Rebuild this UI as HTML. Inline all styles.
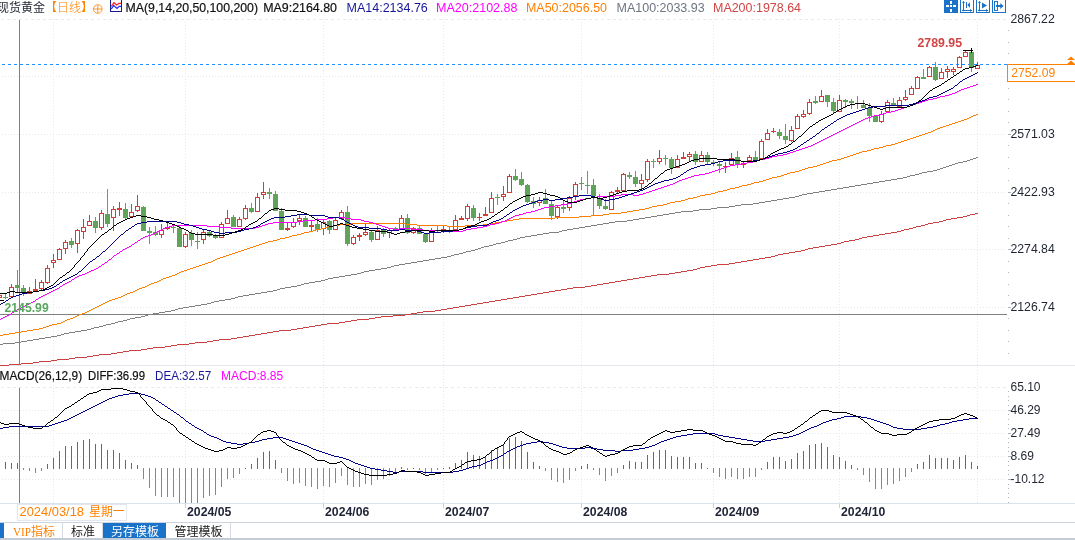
<!DOCTYPE html>
<html lang="zh-CN"><head><meta charset="utf-8"><title>现货黄金 日线</title>
<style>html,body{margin:0;padding:0;background:#fff;overflow:hidden}svg{display:block}text{white-space:pre}</style>
</head><body>
<svg width="1075" height="540" viewBox="0 0 1075 540" font-family='"Liberation Sans","Noto Sans CJK SC",sans-serif'>
<rect width="1075" height="540" fill="#fff"/>
<g stroke="#e5eaf0" stroke-width="1" stroke-dasharray="1 2" shape-rendering="crispEdges">
<line x1="1" x2="1007" y1="19.5" y2="19.5" stroke="#e3ecf3" stroke-dasharray="3 3"/>
<line x1="2" x2="1007" y1="76.5" y2="76.5"/>
<line x1="2" x2="1007" y1="134.5" y2="134.5"/>
<line x1="2" x2="1007" y1="192.5" y2="192.5"/>
<line x1="2" x2="1007" y1="249.5" y2="249.5"/>
<line x1="2" x2="1007" y1="307.5" y2="307.5"/>
<line x1="2" x2="1007" y1="410.5" y2="410.5"/>
<line x1="2" x2="1007" y1="433.5" y2="433.5"/>
<line x1="2" x2="1007" y1="456.5" y2="456.5"/>
<line x1="2" x2="1007" y1="479.5" y2="479.5"/>
<line x1="1" x2="1007" y1="387.5" y2="387.5" stroke="#e3ecf3" stroke-dasharray="3 3"/>
<line x1="53.5" x2="53.5" y1="19" y2="365"/>
<line x1="53.5" x2="53.5" y1="367" y2="503"/>
<line x1="185.5" x2="185.5" y1="19" y2="365"/>
<line x1="185.5" x2="185.5" y1="367" y2="503"/>
<line x1="323.5" x2="323.5" y1="19" y2="365"/>
<line x1="323.5" x2="323.5" y1="367" y2="503"/>
<line x1="443.5" x2="443.5" y1="19" y2="365"/>
<line x1="443.5" x2="443.5" y1="367" y2="503"/>
<line x1="581.5" x2="581.5" y1="19" y2="365"/>
<line x1="581.5" x2="581.5" y1="367" y2="503"/>
<line x1="713.5" x2="713.5" y1="19" y2="365"/>
<line x1="713.5" x2="713.5" y1="367" y2="503"/>
<line x1="839.5" x2="839.5" y1="19" y2="365"/>
<line x1="839.5" x2="839.5" y1="367" y2="503"/>
<line x1="977.5" x2="977.5" y1="19" y2="365"/>
<line x1="977.5" x2="977.5" y1="367" y2="503"/>
</g>
<rect x="0" y="365" width="1075" height="1" fill="#e3e8ef"/>
<g fill="#808080" shape-rendering="crispEdges">
<rect x="19" y="20" width="1" height="345"/>
<rect x="19" y="388" width="1" height="115"/>
<rect x="0" y="314" width="1007" height="1"/>
</g>
<line x1="2" x2="1007" y1="64.5" y2="64.5" stroke="#1e90ff" stroke-width="1" stroke-dasharray="3 3" shape-rendering="crispEdges"/>
<g shape-rendering="crispEdges">
<rect x="-2.5" y="295.5" width="4" height="2" fill="none" stroke="#cf3f36" stroke-width="1"/>
<rect x="5" y="294" width="1" height="3" fill="#5fa458"/>
<rect x="5" y="298" width="1" height="1" fill="#5fa458"/>
<rect x="3" y="297" width="5" height="1" fill="#5fa458"/>
<rect x="11" y="284" width="1" height="3" fill="#cf3f36"/>
<rect x="9.5" y="287.5" width="4" height="9" fill="none" stroke="#cf3f36" stroke-width="1"/>
<rect x="17" y="270" width="1" height="15" fill="#5fa458"/>
<rect x="17" y="288" width="1" height="5" fill="#5fa458"/>
<rect x="15" y="285" width="5" height="3" fill="#5fa458"/>
<rect x="23" y="285" width="1" height="3" fill="#5fa458"/>
<rect x="23" y="293" width="1" height="3" fill="#5fa458"/>
<rect x="21" y="288" width="5" height="5" fill="#5fa458"/>
<rect x="29" y="287" width="1" height="4" fill="#cf3f36"/>
<rect x="27.5" y="291.5" width="4" height="2" fill="none" stroke="#cf3f36" stroke-width="1"/>
<rect x="35" y="279" width="1" height="10" fill="#cf3f36"/>
<rect x="33" y="289" width="5" height="2" fill="#cf3f36"/>
<rect x="41" y="280" width="1" height="2" fill="#cf3f36"/>
<rect x="41" y="289" width="1" height="1" fill="#cf3f36"/>
<rect x="39.5" y="282.5" width="4" height="6" fill="none" stroke="#cf3f36" stroke-width="1"/>
<rect x="47" y="265" width="1" height="3" fill="#cf3f36"/>
<rect x="47" y="283" width="1" height="1" fill="#cf3f36"/>
<rect x="45.5" y="268.5" width="4" height="14" fill="none" stroke="#cf3f36" stroke-width="1"/>
<rect x="53" y="254" width="1" height="6" fill="#cf3f36"/>
<rect x="53" y="263" width="1" height="5" fill="#cf3f36"/>
<rect x="51.5" y="260.5" width="4" height="2" fill="none" stroke="#cf3f36" stroke-width="1"/>
<rect x="59" y="248" width="1" height="1" fill="#cf3f36"/>
<rect x="57.5" y="249.5" width="4" height="10" fill="none" stroke="#cf3f36" stroke-width="1"/>
<rect x="65" y="240" width="1" height="2" fill="#cf3f36"/>
<rect x="65" y="249" width="1" height="5" fill="#cf3f36"/>
<rect x="63.5" y="242.5" width="4" height="6" fill="none" stroke="#cf3f36" stroke-width="1"/>
<rect x="71" y="238" width="1" height="3" fill="#5fa458"/>
<rect x="71" y="245" width="1" height="3" fill="#5fa458"/>
<rect x="69" y="241" width="5" height="4" fill="#5fa458"/>
<rect x="77" y="229" width="1" height="1" fill="#cf3f36"/>
<rect x="77" y="244" width="1" height="9" fill="#cf3f36"/>
<rect x="75.5" y="230.5" width="4" height="13" fill="none" stroke="#cf3f36" stroke-width="1"/>
<rect x="83" y="219" width="1" height="8" fill="#cf3f36"/>
<rect x="83" y="232" width="1" height="7" fill="#cf3f36"/>
<rect x="81.5" y="227.5" width="4" height="4" fill="none" stroke="#cf3f36" stroke-width="1"/>
<rect x="89" y="215" width="1" height="6" fill="#cf3f36"/>
<rect x="87.5" y="221.5" width="4" height="4" fill="none" stroke="#cf3f36" stroke-width="1"/>
<rect x="95" y="217" width="1" height="4" fill="#5fa458"/>
<rect x="95" y="228" width="1" height="5" fill="#5fa458"/>
<rect x="93" y="221" width="5" height="7" fill="#5fa458"/>
<rect x="101" y="210" width="1" height="3" fill="#cf3f36"/>
<rect x="101" y="228" width="1" height="2" fill="#cf3f36"/>
<rect x="99.5" y="213.5" width="4" height="14" fill="none" stroke="#cf3f36" stroke-width="1"/>
<rect x="107" y="189" width="1" height="25" fill="#5fa458"/>
<rect x="107" y="224" width="1" height="3" fill="#5fa458"/>
<rect x="105" y="214" width="5" height="10" fill="#5fa458"/>
<rect x="113" y="206" width="1" height="3" fill="#cf3f36"/>
<rect x="113" y="218" width="1" height="13" fill="#cf3f36"/>
<rect x="111.5" y="209.5" width="4" height="8" fill="none" stroke="#cf3f36" stroke-width="1"/>
<rect x="119" y="202" width="1" height="6" fill="#cf3f36"/>
<rect x="119" y="210" width="1" height="6" fill="#cf3f36"/>
<rect x="117" y="208" width="5" height="2" fill="#cf3f36"/>
<rect x="125" y="203" width="1" height="6" fill="#5fa458"/>
<rect x="125" y="218" width="1" height="1" fill="#5fa458"/>
<rect x="123" y="209" width="5" height="9" fill="#5fa458"/>
<rect x="131" y="204" width="1" height="8" fill="#cf3f36"/>
<rect x="129.5" y="212.5" width="4" height="4" fill="none" stroke="#cf3f36" stroke-width="1"/>
<rect x="137" y="195" width="1" height="11" fill="#cf3f36"/>
<rect x="137" y="211" width="1" height="1" fill="#cf3f36"/>
<rect x="135.5" y="206.5" width="4" height="4" fill="none" stroke="#cf3f36" stroke-width="1"/>
<rect x="143" y="206" width="1" height="1" fill="#5fa458"/>
<rect x="141" y="207" width="5" height="24" fill="#5fa458"/>
<rect x="149" y="227" width="1" height="4" fill="#5fa458"/>
<rect x="149" y="233" width="1" height="11" fill="#5fa458"/>
<rect x="147" y="231" width="5" height="2" fill="#5fa458"/>
<rect x="155" y="226" width="1" height="6" fill="#5fa458"/>
<rect x="155" y="235" width="1" height="1" fill="#5fa458"/>
<rect x="153" y="232" width="5" height="3" fill="#5fa458"/>
<rect x="161" y="224" width="1" height="6" fill="#cf3f36"/>
<rect x="161" y="235" width="1" height="3" fill="#cf3f36"/>
<rect x="159.5" y="230.5" width="4" height="4" fill="none" stroke="#cf3f36" stroke-width="1"/>
<rect x="167" y="222" width="1" height="5" fill="#cf3f36"/>
<rect x="167" y="229" width="1" height="1" fill="#cf3f36"/>
<rect x="165" y="227" width="5" height="2" fill="#cf3f36"/>
<rect x="173" y="224" width="1" height="3" fill="#5fa458"/>
<rect x="173" y="228" width="1" height="5" fill="#5fa458"/>
<rect x="171" y="227" width="5" height="1" fill="#5fa458"/>
<rect x="179" y="226" width="1" height="2" fill="#5fa458"/>
<rect x="177" y="228" width="5" height="19" fill="#5fa458"/>
<rect x="185" y="232" width="1" height="2" fill="#cf3f36"/>
<rect x="185" y="247" width="1" height="1" fill="#cf3f36"/>
<rect x="183.5" y="234.5" width="4" height="12" fill="none" stroke="#cf3f36" stroke-width="1"/>
<rect x="191" y="230" width="1" height="3" fill="#5fa458"/>
<rect x="191" y="240" width="1" height="6" fill="#5fa458"/>
<rect x="189" y="233" width="5" height="7" fill="#5fa458"/>
<rect x="197" y="232" width="1" height="9" fill="#5fa458"/>
<rect x="197" y="242" width="1" height="7" fill="#5fa458"/>
<rect x="195" y="241" width="5" height="1" fill="#5fa458"/>
<rect x="203" y="229" width="1" height="3" fill="#cf3f36"/>
<rect x="203" y="240" width="1" height="4" fill="#cf3f36"/>
<rect x="201.5" y="232.5" width="4" height="7" fill="none" stroke="#cf3f36" stroke-width="1"/>
<rect x="209" y="230" width="1" height="2" fill="#5fa458"/>
<rect x="209" y="236" width="1" height="1" fill="#5fa458"/>
<rect x="207" y="232" width="5" height="4" fill="#5fa458"/>
<rect x="215" y="234" width="1" height="1" fill="#5fa458"/>
<rect x="215" y="238" width="1" height="1" fill="#5fa458"/>
<rect x="213" y="235" width="5" height="3" fill="#5fa458"/>
<rect x="221" y="222" width="1" height="2" fill="#cf3f36"/>
<rect x="219.5" y="224.5" width="4" height="13" fill="none" stroke="#cf3f36" stroke-width="1"/>
<rect x="227" y="210" width="1" height="8" fill="#cf3f36"/>
<rect x="225.5" y="218.5" width="4" height="5" fill="none" stroke="#cf3f36" stroke-width="1"/>
<rect x="233" y="215" width="1" height="2" fill="#5fa458"/>
<rect x="231" y="217" width="5" height="10" fill="#5fa458"/>
<rect x="239" y="217" width="1" height="2" fill="#cf3f36"/>
<rect x="237.5" y="219.5" width="4" height="7" fill="none" stroke="#cf3f36" stroke-width="1"/>
<rect x="245" y="205" width="1" height="3" fill="#cf3f36"/>
<rect x="245" y="219" width="1" height="1" fill="#cf3f36"/>
<rect x="243.5" y="208.5" width="4" height="10" fill="none" stroke="#cf3f36" stroke-width="1"/>
<rect x="251" y="203" width="1" height="5" fill="#5fa458"/>
<rect x="251" y="212" width="1" height="1" fill="#5fa458"/>
<rect x="249" y="208" width="5" height="4" fill="#5fa458"/>
<rect x="257" y="193" width="1" height="4" fill="#cf3f36"/>
<rect x="255.5" y="197.5" width="4" height="14" fill="none" stroke="#cf3f36" stroke-width="1"/>
<rect x="263" y="182" width="1" height="10" fill="#cf3f36"/>
<rect x="263" y="195" width="1" height="4" fill="#cf3f36"/>
<rect x="261.5" y="192.5" width="4" height="2" fill="none" stroke="#cf3f36" stroke-width="1"/>
<rect x="269" y="188" width="1" height="4" fill="#5fa458"/>
<rect x="269" y="194" width="1" height="5" fill="#5fa458"/>
<rect x="267" y="192" width="5" height="2" fill="#5fa458"/>
<rect x="275" y="191" width="1" height="3" fill="#5fa458"/>
<rect x="273" y="194" width="5" height="17" fill="#5fa458"/>
<rect x="281" y="208" width="1" height="3" fill="#5fa458"/>
<rect x="279" y="211" width="5" height="19" fill="#5fa458"/>
<rect x="287" y="222" width="1" height="6" fill="#cf3f36"/>
<rect x="287" y="230" width="1" height="1" fill="#cf3f36"/>
<rect x="285" y="228" width="5" height="2" fill="#cf3f36"/>
<rect x="293" y="218" width="1" height="4" fill="#cf3f36"/>
<rect x="293" y="227" width="1" height="1" fill="#cf3f36"/>
<rect x="291.5" y="222.5" width="4" height="4" fill="none" stroke="#cf3f36" stroke-width="1"/>
<rect x="299" y="215" width="1" height="3" fill="#cf3f36"/>
<rect x="299" y="221" width="1" height="4" fill="#cf3f36"/>
<rect x="297.5" y="218.5" width="4" height="2" fill="none" stroke="#cf3f36" stroke-width="1"/>
<rect x="305" y="216" width="1" height="2" fill="#5fa458"/>
<rect x="303" y="218" width="5" height="9" fill="#5fa458"/>
<rect x="311" y="220" width="1" height="5" fill="#cf3f36"/>
<rect x="311" y="227" width="1" height="4" fill="#cf3f36"/>
<rect x="309" y="225" width="5" height="2" fill="#cf3f36"/>
<rect x="317" y="218" width="1" height="6" fill="#5fa458"/>
<rect x="317" y="230" width="1" height="2" fill="#5fa458"/>
<rect x="315" y="224" width="5" height="6" fill="#5fa458"/>
<rect x="323" y="219" width="1" height="3" fill="#cf3f36"/>
<rect x="323" y="229" width="1" height="6" fill="#cf3f36"/>
<rect x="321.5" y="222.5" width="4" height="6" fill="none" stroke="#cf3f36" stroke-width="1"/>
<rect x="329" y="220" width="1" height="1" fill="#5fa458"/>
<rect x="329" y="230" width="1" height="4" fill="#5fa458"/>
<rect x="327" y="221" width="5" height="9" fill="#5fa458"/>
<rect x="335" y="218" width="1" height="2" fill="#cf3f36"/>
<rect x="333.5" y="220.5" width="4" height="9" fill="none" stroke="#cf3f36" stroke-width="1"/>
<rect x="341" y="210" width="1" height="2" fill="#cf3f36"/>
<rect x="341" y="219" width="1" height="1" fill="#cf3f36"/>
<rect x="339.5" y="212.5" width="4" height="6" fill="none" stroke="#cf3f36" stroke-width="1"/>
<rect x="347" y="206" width="1" height="6" fill="#5fa458"/>
<rect x="347" y="244" width="1" height="2" fill="#5fa458"/>
<rect x="345" y="212" width="5" height="32" fill="#5fa458"/>
<rect x="353" y="235" width="1" height="2" fill="#cf3f36"/>
<rect x="353" y="244" width="1" height="1" fill="#cf3f36"/>
<rect x="351.5" y="237.5" width="4" height="6" fill="none" stroke="#cf3f36" stroke-width="1"/>
<rect x="359" y="233" width="1" height="2" fill="#cf3f36"/>
<rect x="359" y="237" width="1" height="4" fill="#cf3f36"/>
<rect x="357" y="235" width="5" height="2" fill="#cf3f36"/>
<rect x="365" y="224" width="1" height="8" fill="#cf3f36"/>
<rect x="365" y="235" width="1" height="1" fill="#cf3f36"/>
<rect x="363.5" y="232.5" width="4" height="2" fill="none" stroke="#cf3f36" stroke-width="1"/>
<rect x="371" y="230" width="1" height="2" fill="#5fa458"/>
<rect x="371" y="240" width="1" height="2" fill="#5fa458"/>
<rect x="369" y="232" width="5" height="8" fill="#5fa458"/>
<rect x="377" y="226" width="1" height="4" fill="#cf3f36"/>
<rect x="375.5" y="230.5" width="4" height="9" fill="none" stroke="#cf3f36" stroke-width="1"/>
<rect x="383" y="228" width="1" height="2" fill="#5fa458"/>
<rect x="383" y="234" width="1" height="3" fill="#5fa458"/>
<rect x="381" y="230" width="5" height="4" fill="#5fa458"/>
<rect x="389" y="228" width="1" height="2" fill="#cf3f36"/>
<rect x="389" y="233" width="1" height="5" fill="#cf3f36"/>
<rect x="387.5" y="230.5" width="4" height="2" fill="none" stroke="#cf3f36" stroke-width="1"/>
<rect x="395" y="227" width="1" height="1" fill="#5fa458"/>
<rect x="393" y="228" width="5" height="3" fill="#5fa458"/>
<rect x="401" y="215" width="1" height="3" fill="#cf3f36"/>
<rect x="399.5" y="218.5" width="4" height="10" fill="none" stroke="#cf3f36" stroke-width="1"/>
<rect x="407" y="214" width="1" height="4" fill="#5fa458"/>
<rect x="407" y="233" width="1" height="1" fill="#5fa458"/>
<rect x="405" y="218" width="5" height="15" fill="#5fa458"/>
<rect x="413" y="227" width="1" height="1" fill="#cf3f36"/>
<rect x="413" y="233" width="1" height="1" fill="#cf3f36"/>
<rect x="411.5" y="228.5" width="4" height="4" fill="none" stroke="#cf3f36" stroke-width="1"/>
<rect x="419" y="226" width="1" height="2" fill="#5fa458"/>
<rect x="417" y="228" width="5" height="6" fill="#5fa458"/>
<rect x="425" y="233" width="1" height="1" fill="#5fa458"/>
<rect x="425" y="242" width="1" height="1" fill="#5fa458"/>
<rect x="423" y="234" width="5" height="8" fill="#5fa458"/>
<rect x="431" y="228" width="1" height="4" fill="#cf3f36"/>
<rect x="429.5" y="232.5" width="4" height="9" fill="none" stroke="#cf3f36" stroke-width="1"/>
<rect x="437" y="225" width="1" height="5" fill="#5fa458"/>
<rect x="437" y="231" width="1" height="2" fill="#5fa458"/>
<rect x="435" y="230" width="5" height="1" fill="#5fa458"/>
<rect x="443" y="225" width="1" height="4" fill="#cf3f36"/>
<rect x="443" y="231" width="1" height="2" fill="#cf3f36"/>
<rect x="441" y="229" width="5" height="2" fill="#cf3f36"/>
<rect x="449" y="227" width="1" height="3" fill="#5fa458"/>
<rect x="449" y="231" width="1" height="2" fill="#5fa458"/>
<rect x="447" y="230" width="5" height="1" fill="#5fa458"/>
<rect x="455" y="215" width="1" height="5" fill="#cf3f36"/>
<rect x="453.5" y="220.5" width="4" height="9" fill="none" stroke="#cf3f36" stroke-width="1"/>
<rect x="461" y="216" width="1" height="2" fill="#cf3f36"/>
<rect x="459" y="218" width="5" height="2" fill="#cf3f36"/>
<rect x="467" y="204" width="1" height="2" fill="#cf3f36"/>
<rect x="467" y="219" width="1" height="2" fill="#cf3f36"/>
<rect x="465.5" y="206.5" width="4" height="12" fill="none" stroke="#cf3f36" stroke-width="1"/>
<rect x="473" y="205" width="1" height="3" fill="#5fa458"/>
<rect x="473" y="218" width="1" height="3" fill="#5fa458"/>
<rect x="471" y="208" width="5" height="10" fill="#5fa458"/>
<rect x="479" y="213" width="1" height="4" fill="#cf3f36"/>
<rect x="479" y="218" width="1" height="3" fill="#cf3f36"/>
<rect x="477" y="217" width="5" height="1" fill="#cf3f36"/>
<rect x="485" y="207" width="1" height="7" fill="#cf3f36"/>
<rect x="483" y="214" width="5" height="2" fill="#cf3f36"/>
<rect x="491" y="192" width="1" height="6" fill="#cf3f36"/>
<rect x="489.5" y="198.5" width="4" height="14" fill="none" stroke="#cf3f36" stroke-width="1"/>
<rect x="497" y="194" width="1" height="3" fill="#5fa458"/>
<rect x="497" y="198" width="1" height="7" fill="#5fa458"/>
<rect x="495" y="197" width="5" height="1" fill="#5fa458"/>
<rect x="503" y="186" width="1" height="8" fill="#cf3f36"/>
<rect x="503" y="197" width="1" height="4" fill="#cf3f36"/>
<rect x="501.5" y="194.5" width="4" height="2" fill="none" stroke="#cf3f36" stroke-width="1"/>
<rect x="509" y="174" width="1" height="2" fill="#cf3f36"/>
<rect x="507.5" y="176.5" width="4" height="16" fill="none" stroke="#cf3f36" stroke-width="1"/>
<rect x="515" y="169" width="1" height="7" fill="#5fa458"/>
<rect x="515" y="180" width="1" height="1" fill="#5fa458"/>
<rect x="513" y="176" width="5" height="4" fill="#5fa458"/>
<rect x="521" y="172" width="1" height="7" fill="#5fa458"/>
<rect x="521" y="185" width="1" height="1" fill="#5fa458"/>
<rect x="519" y="179" width="5" height="6" fill="#5fa458"/>
<rect x="527" y="184" width="1" height="1" fill="#5fa458"/>
<rect x="527" y="202" width="1" height="1" fill="#5fa458"/>
<rect x="525" y="185" width="5" height="17" fill="#5fa458"/>
<rect x="533" y="197" width="1" height="4" fill="#5fa458"/>
<rect x="533" y="204" width="1" height="4" fill="#5fa458"/>
<rect x="531" y="201" width="5" height="3" fill="#5fa458"/>
<rect x="539" y="197" width="1" height="3" fill="#cf3f36"/>
<rect x="539" y="203" width="1" height="3" fill="#cf3f36"/>
<rect x="537.5" y="200.5" width="4" height="2" fill="none" stroke="#cf3f36" stroke-width="1"/>
<rect x="545" y="189" width="1" height="9" fill="#5fa458"/>
<rect x="543" y="198" width="5" height="6" fill="#5fa458"/>
<rect x="551" y="201" width="1" height="3" fill="#5fa458"/>
<rect x="551" y="216" width="1" height="4" fill="#5fa458"/>
<rect x="549" y="204" width="5" height="12" fill="#5fa458"/>
<rect x="557" y="206" width="1" height="1" fill="#cf3f36"/>
<rect x="557" y="217" width="1" height="2" fill="#cf3f36"/>
<rect x="555.5" y="207.5" width="4" height="9" fill="none" stroke="#cf3f36" stroke-width="1"/>
<rect x="563" y="201" width="1" height="6" fill="#5fa458"/>
<rect x="563" y="209" width="1" height="4" fill="#5fa458"/>
<rect x="561" y="207" width="5" height="2" fill="#5fa458"/>
<rect x="569" y="196" width="1" height="2" fill="#cf3f36"/>
<rect x="569" y="208" width="1" height="3" fill="#cf3f36"/>
<rect x="567.5" y="198.5" width="4" height="9" fill="none" stroke="#cf3f36" stroke-width="1"/>
<rect x="575" y="182" width="1" height="2" fill="#cf3f36"/>
<rect x="575" y="196" width="1" height="4" fill="#cf3f36"/>
<rect x="573.5" y="184.5" width="4" height="11" fill="none" stroke="#cf3f36" stroke-width="1"/>
<rect x="581" y="177" width="1" height="6" fill="#5fa458"/>
<rect x="581" y="184" width="1" height="6" fill="#5fa458"/>
<rect x="579" y="183" width="5" height="1" fill="#5fa458"/>
<rect x="587" y="171" width="1" height="14" fill="#5fa458"/>
<rect x="587" y="186" width="1" height="8" fill="#5fa458"/>
<rect x="585" y="185" width="5" height="1" fill="#5fa458"/>
<rect x="593" y="179" width="1" height="6" fill="#5fa458"/>
<rect x="593" y="196" width="1" height="19" fill="#5fa458"/>
<rect x="591" y="185" width="5" height="11" fill="#5fa458"/>
<rect x="599" y="194" width="1" height="4" fill="#5fa458"/>
<rect x="599" y="206" width="1" height="3" fill="#5fa458"/>
<rect x="597" y="198" width="5" height="8" fill="#5fa458"/>
<rect x="605" y="199" width="1" height="7" fill="#5fa458"/>
<rect x="605" y="209" width="1" height="1" fill="#5fa458"/>
<rect x="603" y="206" width="5" height="3" fill="#5fa458"/>
<rect x="611" y="191" width="1" height="1" fill="#cf3f36"/>
<rect x="609.5" y="192.5" width="4" height="17" fill="none" stroke="#cf3f36" stroke-width="1"/>
<rect x="617" y="187" width="1" height="3" fill="#cf3f36"/>
<rect x="617" y="192" width="1" height="1" fill="#cf3f36"/>
<rect x="615" y="190" width="5" height="2" fill="#cf3f36"/>
<rect x="623" y="173" width="1" height="1" fill="#cf3f36"/>
<rect x="621.5" y="174.5" width="4" height="16" fill="none" stroke="#cf3f36" stroke-width="1"/>
<rect x="629" y="172" width="1" height="3" fill="#5fa458"/>
<rect x="629" y="177" width="1" height="2" fill="#5fa458"/>
<rect x="627" y="175" width="5" height="2" fill="#5fa458"/>
<rect x="635" y="171" width="1" height="6" fill="#5fa458"/>
<rect x="635" y="184" width="1" height="3" fill="#5fa458"/>
<rect x="633" y="177" width="5" height="7" fill="#5fa458"/>
<rect x="641" y="174" width="1" height="6" fill="#cf3f36"/>
<rect x="641" y="184" width="1" height="5" fill="#cf3f36"/>
<rect x="639.5" y="180.5" width="4" height="3" fill="none" stroke="#cf3f36" stroke-width="1"/>
<rect x="647" y="159" width="1" height="2" fill="#cf3f36"/>
<rect x="647" y="180" width="1" height="2" fill="#cf3f36"/>
<rect x="645.5" y="161.5" width="4" height="18" fill="none" stroke="#cf3f36" stroke-width="1"/>
<rect x="653" y="159" width="1" height="2" fill="#5fa458"/>
<rect x="653" y="162" width="1" height="6" fill="#5fa458"/>
<rect x="651" y="161" width="5" height="1" fill="#5fa458"/>
<rect x="659" y="150" width="1" height="8" fill="#cf3f36"/>
<rect x="659" y="162" width="1" height="2" fill="#cf3f36"/>
<rect x="657.5" y="158.5" width="4" height="3" fill="none" stroke="#cf3f36" stroke-width="1"/>
<rect x="665" y="155" width="1" height="3" fill="#5fa458"/>
<rect x="665" y="159" width="1" height="6" fill="#5fa458"/>
<rect x="663" y="158" width="5" height="1" fill="#5fa458"/>
<rect x="671" y="157" width="1" height="2" fill="#5fa458"/>
<rect x="671" y="168" width="1" height="6" fill="#5fa458"/>
<rect x="669" y="159" width="5" height="9" fill="#5fa458"/>
<rect x="677" y="155" width="1" height="4" fill="#cf3f36"/>
<rect x="675.5" y="159.5" width="4" height="8" fill="none" stroke="#cf3f36" stroke-width="1"/>
<rect x="683" y="152" width="1" height="5" fill="#cf3f36"/>
<rect x="681" y="157" width="5" height="2" fill="#cf3f36"/>
<rect x="689" y="152" width="1" height="2" fill="#cf3f36"/>
<rect x="689" y="157" width="1" height="4" fill="#cf3f36"/>
<rect x="687.5" y="154.5" width="4" height="2" fill="none" stroke="#cf3f36" stroke-width="1"/>
<rect x="695" y="151" width="1" height="3" fill="#5fa458"/>
<rect x="695" y="162" width="1" height="3" fill="#5fa458"/>
<rect x="693" y="154" width="5" height="8" fill="#5fa458"/>
<rect x="701" y="151" width="1" height="4" fill="#cf3f36"/>
<rect x="699.5" y="155.5" width="4" height="6" fill="none" stroke="#cf3f36" stroke-width="1"/>
<rect x="707" y="152" width="1" height="3" fill="#5fa458"/>
<rect x="707" y="162" width="1" height="3" fill="#5fa458"/>
<rect x="705" y="155" width="5" height="7" fill="#5fa458"/>
<rect x="713" y="160" width="1" height="2" fill="#5fa458"/>
<rect x="713" y="163" width="1" height="3" fill="#5fa458"/>
<rect x="711" y="162" width="5" height="1" fill="#5fa458"/>
<rect x="719" y="161" width="1" height="3" fill="#5fa458"/>
<rect x="719" y="166" width="1" height="7" fill="#5fa458"/>
<rect x="717" y="164" width="5" height="2" fill="#5fa458"/>
<rect x="725" y="162" width="1" height="4" fill="#cf3f36"/>
<rect x="725" y="167" width="1" height="6" fill="#cf3f36"/>
<rect x="723" y="166" width="5" height="1" fill="#cf3f36"/>
<rect x="731" y="153" width="1" height="5" fill="#cf3f36"/>
<rect x="729.5" y="158.5" width="4" height="6" fill="none" stroke="#cf3f36" stroke-width="1"/>
<rect x="737" y="151" width="1" height="6" fill="#5fa458"/>
<rect x="737" y="164" width="1" height="4" fill="#5fa458"/>
<rect x="735" y="157" width="5" height="7" fill="#5fa458"/>
<rect x="743" y="161" width="1" height="2" fill="#cf3f36"/>
<rect x="743" y="165" width="1" height="3" fill="#cf3f36"/>
<rect x="741" y="163" width="5" height="2" fill="#cf3f36"/>
<rect x="749" y="155" width="1" height="2" fill="#cf3f36"/>
<rect x="747.5" y="157.5" width="4" height="3" fill="none" stroke="#cf3f36" stroke-width="1"/>
<rect x="755" y="151" width="1" height="6" fill="#5fa458"/>
<rect x="753" y="157" width="5" height="3" fill="#5fa458"/>
<rect x="761" y="139" width="1" height="2" fill="#cf3f36"/>
<rect x="759.5" y="141.5" width="4" height="17" fill="none" stroke="#cf3f36" stroke-width="1"/>
<rect x="767" y="129" width="1" height="4" fill="#cf3f36"/>
<rect x="765.5" y="133.5" width="4" height="6" fill="none" stroke="#cf3f36" stroke-width="1"/>
<rect x="773" y="128" width="1" height="3" fill="#cf3f36"/>
<rect x="773" y="132" width="1" height="1" fill="#cf3f36"/>
<rect x="771" y="131" width="5" height="1" fill="#cf3f36"/>
<rect x="779" y="129" width="1" height="3" fill="#5fa458"/>
<rect x="779" y="136" width="1" height="3" fill="#5fa458"/>
<rect x="777" y="132" width="5" height="4" fill="#5fa458"/>
<rect x="785" y="124" width="1" height="12" fill="#5fa458"/>
<rect x="785" y="140" width="1" height="4" fill="#5fa458"/>
<rect x="783" y="136" width="5" height="4" fill="#5fa458"/>
<rect x="791" y="126" width="1" height="4" fill="#cf3f36"/>
<rect x="791" y="141" width="1" height="1" fill="#cf3f36"/>
<rect x="789.5" y="130.5" width="4" height="10" fill="none" stroke="#cf3f36" stroke-width="1"/>
<rect x="797" y="114" width="1" height="2" fill="#cf3f36"/>
<rect x="795.5" y="116.5" width="4" height="12" fill="none" stroke="#cf3f36" stroke-width="1"/>
<rect x="803" y="110" width="1" height="4" fill="#cf3f36"/>
<rect x="803" y="117" width="1" height="1" fill="#cf3f36"/>
<rect x="801.5" y="114.5" width="4" height="2" fill="none" stroke="#cf3f36" stroke-width="1"/>
<rect x="809" y="99" width="1" height="3" fill="#cf3f36"/>
<rect x="809" y="114" width="1" height="1" fill="#cf3f36"/>
<rect x="807.5" y="102.5" width="4" height="11" fill="none" stroke="#cf3f36" stroke-width="1"/>
<rect x="815" y="96" width="1" height="5" fill="#5fa458"/>
<rect x="815" y="103" width="1" height="1" fill="#5fa458"/>
<rect x="813" y="101" width="5" height="2" fill="#5fa458"/>
<rect x="821" y="90" width="1" height="6" fill="#cf3f36"/>
<rect x="819.5" y="96.5" width="4" height="5" fill="none" stroke="#cf3f36" stroke-width="1"/>
<rect x="827" y="102" width="1" height="5" fill="#5fa458"/>
<rect x="825" y="95" width="5" height="7" fill="#5fa458"/>
<rect x="833" y="98" width="1" height="4" fill="#5fa458"/>
<rect x="833" y="111" width="1" height="2" fill="#5fa458"/>
<rect x="831" y="102" width="5" height="9" fill="#5fa458"/>
<rect x="839" y="95" width="1" height="5" fill="#cf3f36"/>
<rect x="837.5" y="100.5" width="4" height="11" fill="none" stroke="#cf3f36" stroke-width="1"/>
<rect x="845" y="99" width="1" height="1" fill="#5fa458"/>
<rect x="845" y="102" width="1" height="6" fill="#5fa458"/>
<rect x="843" y="100" width="5" height="2" fill="#5fa458"/>
<rect x="851" y="99" width="1" height="2" fill="#5fa458"/>
<rect x="851" y="103" width="1" height="6" fill="#5fa458"/>
<rect x="849" y="101" width="5" height="2" fill="#5fa458"/>
<rect x="857" y="96" width="1" height="7" fill="#5fa458"/>
<rect x="857" y="104" width="1" height="5" fill="#5fa458"/>
<rect x="855" y="103" width="5" height="1" fill="#5fa458"/>
<rect x="863" y="100" width="1" height="5" fill="#5fa458"/>
<rect x="861" y="105" width="5" height="3" fill="#5fa458"/>
<rect x="869" y="103" width="1" height="5" fill="#5fa458"/>
<rect x="869" y="116" width="1" height="6" fill="#5fa458"/>
<rect x="867" y="108" width="5" height="8" fill="#5fa458"/>
<rect x="875" y="115" width="1" height="1" fill="#5fa458"/>
<rect x="873" y="116" width="5" height="6" fill="#5fa458"/>
<rect x="881" y="111" width="1" height="3" fill="#cf3f36"/>
<rect x="881" y="122" width="1" height="1" fill="#cf3f36"/>
<rect x="879.5" y="114.5" width="4" height="7" fill="none" stroke="#cf3f36" stroke-width="1"/>
<rect x="887" y="100" width="1" height="2" fill="#cf3f36"/>
<rect x="885.5" y="102.5" width="4" height="9" fill="none" stroke="#cf3f36" stroke-width="1"/>
<rect x="893" y="98" width="1" height="5" fill="#5fa458"/>
<rect x="891" y="103" width="5" height="2" fill="#5fa458"/>
<rect x="899" y="97" width="1" height="3" fill="#cf3f36"/>
<rect x="897.5" y="100.5" width="4" height="6" fill="none" stroke="#cf3f36" stroke-width="1"/>
<rect x="905" y="90" width="1" height="7" fill="#cf3f36"/>
<rect x="905" y="100" width="1" height="1" fill="#cf3f36"/>
<rect x="903.5" y="97.5" width="4" height="2" fill="none" stroke="#cf3f36" stroke-width="1"/>
<rect x="911" y="86" width="1" height="2" fill="#cf3f36"/>
<rect x="909.5" y="88.5" width="4" height="6" fill="none" stroke="#cf3f36" stroke-width="1"/>
<rect x="917" y="76" width="1" height="1" fill="#cf3f36"/>
<rect x="915.5" y="77.5" width="4" height="11" fill="none" stroke="#cf3f36" stroke-width="1"/>
<rect x="923" y="69" width="1" height="8" fill="#5fa458"/>
<rect x="921" y="77" width="5" height="2" fill="#5fa458"/>
<rect x="929" y="66" width="1" height="1" fill="#cf3f36"/>
<rect x="927.5" y="67.5" width="4" height="9" fill="none" stroke="#cf3f36" stroke-width="1"/>
<rect x="935" y="62" width="1" height="5" fill="#5fa458"/>
<rect x="935" y="80" width="1" height="1" fill="#5fa458"/>
<rect x="933" y="67" width="5" height="13" fill="#5fa458"/>
<rect x="941" y="68" width="1" height="4" fill="#cf3f36"/>
<rect x="939.5" y="72.5" width="4" height="6" fill="none" stroke="#cf3f36" stroke-width="1"/>
<rect x="947" y="66" width="1" height="3" fill="#cf3f36"/>
<rect x="947" y="72" width="1" height="6" fill="#cf3f36"/>
<rect x="945.5" y="69.5" width="4" height="2" fill="none" stroke="#cf3f36" stroke-width="1"/>
<rect x="953" y="67" width="1" height="2" fill="#cf3f36"/>
<rect x="953" y="72" width="1" height="3" fill="#cf3f36"/>
<rect x="951.5" y="69.5" width="4" height="2" fill="none" stroke="#cf3f36" stroke-width="1"/>
<rect x="959" y="56" width="1" height="1" fill="#cf3f36"/>
<rect x="957.5" y="57.5" width="4" height="10" fill="none" stroke="#cf3f36" stroke-width="1"/>
<rect x="965" y="51" width="1" height="1" fill="#cf3f36"/>
<rect x="963.5" y="52.5" width="4" height="4" fill="none" stroke="#cf3f36" stroke-width="1"/>
<rect x="971" y="51" width="1" height="1" fill="#5fa458"/>
<rect x="971" y="68" width="1" height="4" fill="#5fa458"/>
<rect x="969" y="52" width="5" height="16" fill="#5fa458"/>
<rect x="977" y="62" width="1" height="3" fill="#cf3f36"/>
<rect x="975.5" y="65.5" width="4" height="3" fill="none" stroke="#cf3f36" stroke-width="1"/>
</g>
<path d="M975 213h3v1h-3zM970 214h5v1h-5zM967 215h3v1h-3zM963 216h4v1h-4zM957 217h6v1h-6zM951 218h6v1h-6zM946 219h5v1h-5zM943 220h3v1h-3zM939 221h4v1h-4zM933 222h6v1h-6zM928 223h5v1h-5zM925 224h3v1h-3zM921 225h4v1h-4zM916 226h5v1h-5zM913 227h3v1h-3zM909 228h4v1h-4zM904 229h5v1h-5zM901 230h3v1h-3zM897 231h4v1h-4zM891 232h6v1h-6zM885 233h6v1h-6zM879 234h6v1h-6zM873 235h6v1h-6zM867 236h6v1h-6zM862 237h5v1h-5zM859 238h3v1h-3zM855 239h4v1h-4zM849 240h6v1h-6zM844 241h5v1h-5zM841 242h3v1h-3zM837 243h4v1h-4zM831 244h6v1h-6zM825 245h6v1h-6zM819 246h6v1h-6zM813 247h6v1h-6zM808 248h5v1h-5zM805 249h3v1h-3zM801 250h4v1h-4zM795 251h6v1h-6zM789 252h6v1h-6zM783 253h6v1h-6zM778 254h5v1h-5zM775 255h3v1h-3zM771 256h4v1h-4zM765 257h6v1h-6zM759 258h6v1h-6zM753 259h6v1h-6zM747 260h6v1h-6zM741 261h6v1h-6zM735 262h6v1h-6zM729 263h6v1h-6zM717 264h12v1h-12zM711 265h6v1h-6zM705 266h6v1h-6zM700 267h5v1h-5zM697 268h3v1h-3zM693 269h4v1h-4zM687 270h6v1h-6zM681 271h6v1h-6zM675 272h6v1h-6zM669 273h6v1h-6zM657 274h12v1h-12zM651 275h6v1h-6zM645 276h6v1h-6zM639 277h6v1h-6zM633 278h6v1h-6zM627 279h6v1h-6zM621 280h6v1h-6zM615 281h6v1h-6zM609 282h6v1h-6zM603 283h6v1h-6zM597 284h6v1h-6zM591 285h6v1h-6zM585 286h6v1h-6zM573 287h12v1h-12zM567 288h6v1h-6zM561 289h6v1h-6zM555 290h6v1h-6zM549 291h6v1h-6zM543 292h6v1h-6zM537 293h6v1h-6zM531 294h6v1h-6zM525 295h6v1h-6zM519 296h6v1h-6zM513 297h6v1h-6zM507 298h6v1h-6zM501 299h6v1h-6zM495 300h6v1h-6zM489 301h6v1h-6zM483 302h6v1h-6zM477 303h6v1h-6zM471 304h6v1h-6zM465 305h6v1h-6zM459 306h6v1h-6zM453 307h6v1h-6zM447 308h6v1h-6zM441 309h6v1h-6zM435 310h6v1h-6zM423 311h12v1h-12zM417 312h6v1h-6zM411 313h6v1h-6zM405 314h6v1h-6zM393 315h12v1h-12zM381 316h12v1h-12zM375 317h6v1h-6zM369 318h6v1h-6zM357 319h12v1h-12zM351 320h6v1h-6zM345 321h6v1h-6zM339 322h6v1h-6zM327 323h12v1h-12zM321 324h6v1h-6zM315 325h6v1h-6zM309 326h6v1h-6zM303 327h6v1h-6zM297 328h6v1h-6zM291 329h6v1h-6zM279 330h12v1h-12zM273 331h6v1h-6zM267 332h6v1h-6zM261 333h6v1h-6zM255 334h6v1h-6zM249 335h6v1h-6zM243 336h6v1h-6zM237 337h6v1h-6zM231 338h6v1h-6zM219 339h12v1h-12zM213 340h6v1h-6zM207 341h6v1h-6zM195 342h12v1h-12zM189 343h6v1h-6zM177 344h12v1h-12zM171 345h6v1h-6zM165 346h6v1h-6zM153 347h12v1h-12zM147 348h6v1h-6zM141 349h6v1h-6zM129 350h12v1h-12zM123 351h6v1h-6zM117 352h6v1h-6zM111 353h6v1h-6zM99 354h12v1h-12zM93 355h6v1h-6zM87 356h6v1h-6zM75 357h12v1h-12zM69 358h6v1h-6zM57 359h12v1h-12zM51 360h6v1h-6zM39 361h12v1h-12zM33 362h6v1h-6zM21 363h12v1h-12zM9 364h12v1h-12zM-1 365h10v1h-10z" fill="#cc4040" shape-rendering="crispEdges"/>
<path d="M976 157h2v1h-2zM973 158h3v1h-3zM970 159h3v1h-3zM967 160h3v1h-3zM963 161h4v1h-4zM958 162h5v1h-5zM955 163h3v1h-3zM952 164h3v1h-3zM949 165h3v1h-3zM946 166h3v1h-3zM943 167h3v1h-3zM940 168h3v1h-3zM937 169h3v1h-3zM933 170h4v1h-4zM927 171h6v1h-6zM922 172h5v1h-5zM919 173h3v1h-3zM915 174h4v1h-4zM910 175h5v1h-5zM907 176h3v1h-3zM903 177h4v1h-4zM897 178h6v1h-6zM891 179h6v1h-6zM885 180h6v1h-6zM879 181h6v1h-6zM873 182h6v1h-6zM867 183h6v1h-6zM861 184h6v1h-6zM855 185h6v1h-6zM849 186h6v1h-6zM843 187h6v1h-6zM837 188h6v1h-6zM831 189h6v1h-6zM825 190h6v1h-6zM819 191h6v1h-6zM813 192h6v1h-6zM807 193h6v1h-6zM802 194h5v1h-5zM799 195h3v1h-3zM795 196h4v1h-4zM789 197h6v1h-6zM783 198h6v1h-6zM777 199h6v1h-6zM771 200h6v1h-6zM765 201h6v1h-6zM759 202h6v1h-6zM753 203h6v1h-6zM741 204h12v1h-12zM735 205h6v1h-6zM729 206h6v1h-6zM717 207h12v1h-12zM711 208h6v1h-6zM699 209h12v1h-12zM693 210h6v1h-6zM681 211h12v1h-12zM675 212h6v1h-6zM669 213h6v1h-6zM663 214h6v1h-6zM657 215h6v1h-6zM651 216h6v1h-6zM645 217h6v1h-6zM639 218h6v1h-6zM633 219h6v1h-6zM627 220h6v1h-6zM615 221h12v1h-12zM609 222h6v1h-6zM603 223h6v1h-6zM597 224h6v1h-6zM591 225h6v1h-6zM585 226h6v1h-6zM579 227h6v1h-6zM573 228h6v1h-6zM567 229h6v1h-6zM562 230h5v1h-5zM559 231h3v1h-3zM549 232h10v1h-10zM543 233h6v1h-6zM537 234h6v1h-6zM531 235h6v1h-6zM525 236h6v1h-6zM520 237h5v1h-5zM517 238h3v1h-3zM513 239h4v1h-4zM508 240h5v1h-5zM505 241h3v1h-3zM501 242h4v1h-4zM496 243h5v1h-5zM493 244h3v1h-3zM489 245h4v1h-4zM484 246h5v1h-5zM481 247h3v1h-3zM478 248h3v1h-3zM475 249h3v1h-3zM471 250h4v1h-4zM466 251h5v1h-5zM463 252h3v1h-3zM459 253h4v1h-4zM454 254h5v1h-5zM451 255h3v1h-3zM447 256h4v1h-4zM441 257h6v1h-6zM435 258h6v1h-6zM429 259h6v1h-6zM423 260h6v1h-6zM417 261h6v1h-6zM411 262h6v1h-6zM405 263h6v1h-6zM399 264h6v1h-6zM394 265h5v1h-5zM391 266h3v1h-3zM387 267h4v1h-4zM381 268h6v1h-6zM375 269h6v1h-6zM369 270h6v1h-6zM364 271h5v1h-5zM361 272h3v1h-3zM357 273h4v1h-4zM351 274h6v1h-6zM345 275h6v1h-6zM339 276h6v1h-6zM333 277h6v1h-6zM328 278h5v1h-5zM325 279h3v1h-3zM321 280h4v1h-4zM315 281h6v1h-6zM309 282h6v1h-6zM304 283h5v1h-5zM301 284h3v1h-3zM297 285h4v1h-4zM291 286h6v1h-6zM285 287h6v1h-6zM280 288h5v1h-5zM277 289h3v1h-3zM273 290h4v1h-4zM267 291h6v1h-6zM261 292h6v1h-6zM255 293h6v1h-6zM249 294h6v1h-6zM243 295h6v1h-6zM238 296h5v1h-5zM235 297h3v1h-3zM231 298h4v1h-4zM225 299h6v1h-6zM219 300h6v1h-6zM214 301h5v1h-5zM211 302h3v1h-3zM207 303h4v1h-4zM201 304h6v1h-6zM195 305h6v1h-6zM189 306h6v1h-6zM183 307h6v1h-6zM178 308h5v1h-5zM175 309h3v1h-3zM171 310h4v1h-4zM165 311h6v1h-6zM159 312h6v1h-6zM153 313h6v1h-6zM148 314h5v1h-5zM145 315h3v1h-3zM141 316h4v1h-4zM135 317h6v1h-6zM130 318h5v1h-5zM127 319h3v1h-3zM123 320h4v1h-4zM118 321h5v1h-5zM115 322h3v1h-3zM111 323h4v1h-4zM106 324h5v1h-5zM103 325h3v1h-3zM99 326h4v1h-4zM94 327h5v1h-5zM91 328h3v1h-3zM87 329h4v1h-4zM81 330h6v1h-6zM75 331h6v1h-6zM69 332h6v1h-6zM64 333h5v1h-5zM61 334h3v1h-3zM57 335h4v1h-4zM51 336h6v1h-6zM45 337h6v1h-6zM39 338h6v1h-6zM33 339h6v1h-6zM27 340h6v1h-6zM21 341h6v1h-6zM15 342h6v1h-6zM3 343h12v1h-12zM-1 344h4v1h-4z" fill="#808080" shape-rendering="crispEdges"/>
<path d="M976 114h2v1h-2zM973 115h3v1h-3zM971 116h2v1h-2zM969 117h2v1h-2zM967 118h2v1h-2zM964 119h3v1h-3zM961 120h3v1h-3zM958 121h3v1h-3zM955 122h3v1h-3zM952 123h3v1h-3zM949 124h3v1h-3zM946 125h3v1h-3zM943 126h3v1h-3zM940 127h3v1h-3zM937 128h3v1h-3zM935 129h2v1h-2zM933 130h2v1h-2zM931 131h2v1h-2zM928 132h3v1h-3zM925 133h3v1h-3zM922 134h3v1h-3zM919 135h3v1h-3zM916 136h3v1h-3zM913 137h3v1h-3zM910 138h3v1h-3zM907 139h3v1h-3zM904 140h3v1h-3zM901 141h3v1h-3zM898 142h3v1h-3zM895 143h3v1h-3zM891 144h4v1h-4zM886 145h5v1h-5zM883 146h3v1h-3zM879 147h4v1h-4zM874 148h5v1h-5zM871 149h3v1h-3zM867 150h4v1h-4zM862 151h5v1h-5zM859 152h3v1h-3zM856 153h3v1h-3zM853 154h3v1h-3zM850 155h3v1h-3zM847 156h3v1h-3zM844 157h3v1h-3zM841 158h3v1h-3zM837 159h4v1h-4zM832 160h5v1h-5zM829 161h3v1h-3zM826 162h3v1h-3zM823 163h3v1h-3zM820 164h3v1h-3zM817 165h3v1h-3zM813 166h4v1h-4zM808 167h5v1h-5zM805 168h3v1h-3zM802 169h3v1h-3zM799 170h3v1h-3zM795 171h4v1h-4zM790 172h5v1h-5zM787 173h3v1h-3zM784 174h3v1h-3zM781 175h3v1h-3zM777 176h4v1h-4zM772 177h5v1h-5zM769 178h3v1h-3zM766 179h3v1h-3zM763 180h3v1h-3zM759 181h4v1h-4zM754 182h5v1h-5zM751 183h3v1h-3zM747 184h4v1h-4zM742 185h5v1h-5zM739 186h3v1h-3zM735 187h4v1h-4zM730 188h5v1h-5zM727 189h3v1h-3zM723 190h4v1h-4zM718 191h5v1h-5zM715 192h3v1h-3zM711 193h4v1h-4zM705 194h6v1h-6zM700 195h5v1h-5zM697 196h3v1h-3zM693 197h4v1h-4zM688 198h5v1h-5zM685 199h3v1h-3zM681 200h4v1h-4zM675 201h6v1h-6zM670 202h5v1h-5zM667 203h3v1h-3zM663 204h4v1h-4zM657 205h6v1h-6zM652 206h5v1h-5zM649 207h3v1h-3zM645 208h4v1h-4zM639 209h6v1h-6zM633 210h6v1h-6zM627 211h6v1h-6zM621 212h6v1h-6zM609 213h12v1h-12zM603 214h6v1h-6zM591 215h12v1h-12zM579 216h12v1h-12zM555 217h24v1h-24zM519 218h36v1h-36zM513 219h6v1h-6zM507 220h6v1h-6zM501 221h6v1h-6zM495 222h6v1h-6zM351 223h54v1h-54zM489 223h6v1h-6zM339 224h12v1h-12zM405 224h12v1h-12zM483 224h6v1h-6zM333 225h6v1h-6zM417 225h30v1h-30zM465 225h18v1h-18zM328 226h5v1h-5zM447 226h18v1h-18zM325 227h3v1h-3zM321 228h4v1h-4zM316 229h5v1h-5zM313 230h3v1h-3zM309 231h4v1h-4zM304 232h5v1h-5zM301 233h3v1h-3zM297 234h4v1h-4zM292 235h5v1h-5zM289 236h3v1h-3zM285 237h4v1h-4zM280 238h5v1h-5zM277 239h3v1h-3zM273 240h4v1h-4zM268 241h5v1h-5zM265 242h3v1h-3zM262 243h3v1h-3zM259 244h3v1h-3zM256 245h3v1h-3zM253 246h3v1h-3zM250 247h3v1h-3zM247 248h3v1h-3zM244 249h3v1h-3zM241 250h3v1h-3zM238 251h3v1h-3zM235 252h3v1h-3zM232 253h3v1h-3zM229 254h3v1h-3zM226 255h3v1h-3zM223 256h3v1h-3zM220 257h3v1h-3zM217 258h3v1h-3zM215 259h2v1h-2zM213 260h2v1h-2zM211 261h2v1h-2zM208 262h3v1h-3zM205 263h3v1h-3zM202 264h3v1h-3zM199 265h3v1h-3zM196 266h3v1h-3zM193 267h3v1h-3zM190 268h3v1h-3zM187 269h3v1h-3zM184 270h3v1h-3zM181 271h3v1h-3zM179 272h2v1h-2zM177 273h2v1h-2zM175 274h2v1h-2zM172 275h3v1h-3zM169 276h3v1h-3zM166 277h3v1h-3zM163 278h3v1h-3zM161 279h2v1h-2zM159 280h2v1h-2zM157 281h2v1h-2zM154 282h3v1h-3zM151 283h3v1h-3zM149 284h2v1h-2zM147 285h2v1h-2zM145 286h2v1h-2zM142 287h3v1h-3zM139 288h3v1h-3zM137 289h2v1h-2zM135 290h2v1h-2zM133 291h2v1h-2zM130 292h3v1h-3zM127 293h3v1h-3zM125 294h2v1h-2zM123 295h2v1h-2zM121 296h2v1h-2zM118 297h3v1h-3zM115 298h3v1h-3zM112 299h3v1h-3zM109 300h3v1h-3zM107 301h2v1h-2zM105 302h2v1h-2zM103 303h2v1h-2zM101 304h2v1h-2zM99 305h2v1h-2zM97 306h2v1h-2zM95 307h2v1h-2zM93 308h2v1h-2zM91 309h2v1h-2zM89 310h2v1h-2zM87 311h2v1h-2zM85 312h2v1h-2zM82 313h3v1h-3zM79 314h3v1h-3zM77 315h2v1h-2zM75 316h2v1h-2zM73 317h2v1h-2zM70 318h3v1h-3zM67 319h3v1h-3zM65 320h2v1h-2zM63 321h2v1h-2zM61 322h2v1h-2zM57 323h4v1h-4zM52 324h5v1h-5zM49 325h3v1h-3zM46 326h3v1h-3zM43 327h3v1h-3zM39 328h4v1h-4zM33 329h6v1h-6zM27 330h6v1h-6zM21 331h6v1h-6zM15 332h6v1h-6zM9 333h6v1h-6zM3 334h6v1h-6zM-1 335h4v1h-4z" fill="#ff8000" shape-rendering="crispEdges"/>
<path d="M976 84h2v1h-2zM973 85h3v1h-3zM970 86h3v1h-3zM967 87h3v1h-3zM964 88h3v1h-3zM961 89h3v1h-3zM959 90h2v1h-2zM957 91h2v1h-2zM955 92h2v1h-2zM952 93h3v1h-3zM949 94h3v1h-3zM945 95h4v1h-4zM940 96h5v1h-5zM937 97h3v1h-3zM933 98h4v1h-4zM928 99h5v1h-5zM925 100h3v1h-3zM922 101h3v1h-3zM919 102h3v1h-3zM916 103h3v1h-3zM913 104h3v1h-3zM910 105h3v1h-3zM907 106h3v1h-3zM904 107h3v1h-3zM901 108h3v1h-3zM898 109h3v1h-3zM895 110h3v1h-3zM891 111h4v1h-4zM886 112h5v1h-5zM883 113h3v1h-3zM879 114h4v1h-4zM874 115h5v1h-5zM871 116h3v1h-3zM868 117h3v1h-3zM865 118h3v1h-3zM863 119h2v1h-2zM861 120h2v1h-2zM859 121h2v1h-2zM857 122h2v1h-2zM855 123h2v1h-2zM853 124h2v1h-2zM851 125h2v1h-2zM849 126h2v1h-2zM847 127h2v1h-2zM845 128h2v1h-2zM843 129h2v1h-2zM841 130h2v1h-2zM839 131h2v1h-2zM837 132h2v1h-2zM835 133h2v1h-2zM833 134h2v1h-2zM831 135h2v1h-2zM829 136h2v1h-2zM827 137h2v1h-2zM825 138h2v1h-2zM823 139h2v1h-2zM821 140h2v1h-2zM819 141h2v1h-2zM817 142h2v1h-2zM815 143h2v1h-2zM813 144h2v1h-2zM811 145h2v1h-2zM808 146h3v1h-3zM805 147h3v1h-3zM802 148h3v1h-3zM799 149h3v1h-3zM796 150h3v1h-3zM793 151h3v1h-3zM790 152h3v1h-3zM787 153h3v1h-3zM783 154h4v1h-4zM777 155h6v1h-6zM772 156h5v1h-5zM769 157h3v1h-3zM765 158h4v1h-4zM760 159h5v1h-5zM757 160h3v1h-3zM753 161h4v1h-4zM747 162h6v1h-6zM741 163h6v1h-6zM735 164h6v1h-6zM730 165h5v1h-5zM727 166h3v1h-3zM724 167h3v1h-3zM721 168h3v1h-3zM718 169h3v1h-3zM715 170h3v1h-3zM712 171h3v1h-3zM709 172h3v1h-3zM705 173h4v1h-4zM699 174h6v1h-6zM694 175h5v1h-5zM691 176h3v1h-3zM688 177h3v1h-3zM685 178h3v1h-3zM682 179h3v1h-3zM679 180h3v1h-3zM677 181h2v1h-2zM675 182h2v1h-2zM673 183h2v1h-2zM670 184h3v1h-3zM667 185h3v1h-3zM664 186h3v1h-3zM661 187h3v1h-3zM658 188h3v1h-3zM655 189h3v1h-3zM652 190h3v1h-3zM649 191h3v1h-3zM646 192h3v1h-3zM643 193h3v1h-3zM621 194h12v1h-12zM639 194h4v1h-4zM615 195h6v1h-6zM633 195h6v1h-6zM597 196h18v1h-18zM591 197h6v1h-6zM585 198h6v1h-6zM580 199h5v1h-5zM577 200h3v1h-3zM574 201h3v1h-3zM571 202h3v1h-3zM567 203h4v1h-4zM561 204h6v1h-6zM555 205h6v1h-6zM549 206h6v1h-6zM544 207h5v1h-5zM541 208h3v1h-3zM538 209h3v1h-3zM535 210h3v1h-3zM531 211h4v1h-4zM526 212h5v1h-5zM523 213h3v1h-3zM519 214h4v1h-4zM515 215h4v1h-4zM513 216h2v1h-2zM333 217h12v1h-12zM511 217h2v1h-2zM327 218h6v1h-6zM345 218h6v1h-6zM509 218h2v1h-2zM315 219h12v1h-12zM351 219h10v1h-10zM507 219h2v1h-2zM303 220h12v1h-12zM361 220h3v1h-3zM505 220h2v1h-2zM297 221h6v1h-6zM364 221h5v1h-5zM502 221h3v1h-3zM273 222h24v1h-24zM369 222h4v1h-4zM499 222h3v1h-3zM268 223h5v1h-5zM373 223h3v1h-3zM495 223h4v1h-4zM265 224h3v1h-3zM376 224h3v1h-3zM490 224h5v1h-5zM172 225h35v1h-35zM262 225h3v1h-3zM379 225h3v1h-3zM487 225h3v1h-3zM169 226h3v1h-3zM207 226h12v1h-12zM259 226h3v1h-3zM382 226h3v1h-3zM483 226h4v1h-4zM166 227h3v1h-3zM219 227h12v1h-12zM255 227h4v1h-4zM385 227h3v1h-3zM477 227h6v1h-6zM163 228h3v1h-3zM231 228h24v1h-24zM388 228h5v1h-5zM399 228h12v1h-12zM471 228h6v1h-6zM161 229h2v1h-2zM393 229h6v1h-6zM411 229h12v1h-12zM466 229h5v1h-5zM159 230h2v1h-2zM423 230h18v1h-18zM463 230h3v1h-3zM157 231h2v1h-2zM441 231h22v1h-22zM155 232h2v1h-2zM153 233h2v1h-2zM151 234h2v1h-2zM148 235h3v1h-3zM145 236h3v1h-3zM143 237h2v1h-2zM141 238h2v1h-2zM140 239h1v1h-1zM138 240h2v1h-2zM137 241h1v1h-1zM135 242h2v1h-2zM134 243h1v1h-1zM132 244h2v1h-2zM131 245h1v1h-1zM129 246h2v1h-2zM127 247h2v1h-2zM125 248h2v1h-2zM123 249h2v1h-2zM122 250h1v1h-1zM120 251h2v1h-2zM119 252h1v1h-1zM117 253h2v1h-2zM116 254h1v1h-1zM114 255h2v1h-2zM113 256h1v1h-1zM112 257h1v1h-1zM111 258h1v1h-1zM109 259h2v1h-2zM108 260h1v1h-1zM107 261h1v1h-1zM105 262h2v1h-2zM104 263h1v1h-1zM102 264h2v1h-2zM101 265h1v1h-1zM99 266h2v1h-2zM98 267h1v1h-1zM96 268h2v1h-2zM94 269h2v1h-2zM91 270h3v1h-3zM89 271h2v1h-2zM87 272h2v1h-2zM85 273h2v1h-2zM82 274h3v1h-3zM79 275h3v1h-3zM77 276h2v1h-2zM75 277h2v1h-2zM74 278h1v1h-1zM72 279h2v1h-2zM71 280h1v1h-1zM69 281h2v1h-2zM67 282h2v1h-2zM65 283h2v1h-2zM63 284h2v1h-2zM62 285h1v1h-1zM60 286h2v1h-2zM59 287h1v1h-1zM57 288h2v1h-2zM55 289h2v1h-2zM53 290h2v1h-2zM51 291h2v1h-2zM49 292h2v1h-2zM47 293h2v1h-2zM45 294h2v1h-2zM43 295h2v1h-2zM41 296h2v1h-2zM39 297h2v1h-2zM38 298h1v1h-1zM36 299h2v1h-2zM35 300h1v1h-1zM33 301h2v1h-2zM31 302h2v1h-2zM29 303h2v1h-2zM27 304h2v1h-2zM25 305h2v1h-2zM23 306h2v1h-2zM21 307h2v1h-2zM19 308h2v1h-2zM17 309h2v1h-2zM15 310h2v1h-2zM14 311h1v1h-1zM12 312h2v1h-2zM11 313h1v1h-1zM9 314h2v1h-2zM7 315h2v1h-2zM5 316h2v1h-2zM3 317h2v1h-2zM1 318h2v1h-2zM-1 319h2v1h-2z" fill="#ff00ff" shape-rendering="crispEdges"/>
<path d="M977 72h1v1h-1zM975 73h2v1h-2zM973 74h2v1h-2zM971 75h2v1h-2zM969 76h2v1h-2zM967 77h2v1h-2zM965 78h2v1h-2zM963 79h2v1h-2zM962 80h1v1h-1zM960 81h2v1h-2zM959 82h1v1h-1zM958 83h1v1h-1zM957 84h1v1h-1zM955 85h2v1h-2zM954 86h1v1h-1zM953 87h1v1h-1zM951 88h2v1h-2zM949 89h2v1h-2zM947 90h2v1h-2zM945 91h2v1h-2zM943 92h2v1h-2zM941 93h2v1h-2zM939 94h2v1h-2zM937 95h2v1h-2zM933 96h4v1h-4zM929 97h4v1h-4zM927 98h2v1h-2zM925 99h2v1h-2zM922 100h3v1h-3zM919 101h3v1h-3zM916 102h3v1h-3zM913 103h3v1h-3zM909 104h4v1h-4zM885 105h24v1h-24zM873 106h12v1h-12zM868 107h5v1h-5zM865 108h3v1h-3zM862 109h3v1h-3zM859 110h3v1h-3zM856 111h3v1h-3zM853 112h3v1h-3zM850 113h3v1h-3zM847 114h3v1h-3zM845 115h2v1h-2zM843 116h2v1h-2zM841 117h2v1h-2zM839 118h2v1h-2zM837 119h2v1h-2zM836 120h1v1h-1zM834 121h2v1h-2zM833 122h1v1h-1zM831 123h2v1h-2zM830 124h1v1h-1zM828 125h2v1h-2zM827 126h1v1h-1zM825 127h2v1h-2zM824 128h1v1h-1zM822 129h2v1h-2zM821 130h1v1h-1zM820 131h1v1h-1zM819 132h1v1h-1zM817 133h2v1h-2zM816 134h1v1h-1zM815 135h1v1h-1zM813 136h2v1h-2zM812 137h1v1h-1zM810 138h2v1h-2zM809 139h1v1h-1zM807 140h2v1h-2zM806 141h1v1h-1zM804 142h2v1h-2zM803 143h1v1h-1zM801 144h2v1h-2zM800 145h1v1h-1zM798 146h2v1h-2zM797 147h1v1h-1zM795 148h2v1h-2zM793 149h2v1h-2zM790 150h3v1h-3zM787 151h3v1h-3zM783 152h4v1h-4zM778 153h5v1h-5zM775 154h3v1h-3zM772 155h3v1h-3zM769 156h3v1h-3zM766 157h3v1h-3zM763 158h3v1h-3zM759 159h4v1h-4zM723 160h18v1h-18zM753 160h6v1h-6zM718 161h5v1h-5zM741 161h12v1h-12zM715 162h3v1h-3zM711 163h4v1h-4zM705 164h6v1h-6zM700 165h5v1h-5zM697 166h3v1h-3zM694 167h3v1h-3zM691 168h3v1h-3zM689 169h2v1h-2zM687 170h2v1h-2zM686 171h1v1h-1zM684 172h2v1h-2zM683 173h1v1h-1zM681 174h2v1h-2zM680 175h1v1h-1zM678 176h2v1h-2zM676 177h2v1h-2zM673 178h3v1h-3zM669 179h4v1h-4zM664 180h5v1h-5zM661 181h3v1h-3zM658 182h3v1h-3zM655 183h3v1h-3zM653 184h2v1h-2zM651 185h2v1h-2zM649 186h2v1h-2zM647 187h2v1h-2zM645 188h2v1h-2zM643 189h2v1h-2zM640 190h3v1h-3zM637 191h3v1h-3zM634 192h3v1h-3zM631 193h3v1h-3zM628 194h3v1h-3zM579 195h12v1h-12zM625 195h3v1h-3zM573 196h6v1h-6zM591 196h4v1h-4zM622 196h3v1h-3zM567 197h6v1h-6zM595 197h3v1h-3zM619 197h3v1h-3zM561 198h6v1h-6zM598 198h3v1h-3zM615 198h4v1h-4zM543 199h6v1h-6zM555 199h6v1h-6zM601 199h3v1h-3zM609 199h6v1h-6zM538 200h5v1h-5zM549 200h6v1h-6zM604 200h5v1h-5zM535 201h3v1h-3zM532 202h3v1h-3zM529 203h3v1h-3zM526 204h3v1h-3zM523 205h3v1h-3zM521 206h2v1h-2zM519 207h2v1h-2zM517 208h2v1h-2zM515 209h2v1h-2zM513 210h2v1h-2zM512 211h1v1h-1zM510 212h2v1h-2zM509 213h1v1h-1zM297 214h12v1h-12zM507 214h2v1h-2zM291 215h6v1h-6zM309 215h16v1h-16zM506 215h1v1h-1zM285 216h6v1h-6zM325 216h3v1h-3zM504 216h2v1h-2zM274 217h11v1h-11zM328 217h11v1h-11zM503 217h1v1h-1zM271 218h3v1h-3zM339 218h3v1h-3zM501 218h2v1h-2zM269 219h2v1h-2zM342 219h2v1h-2zM499 219h2v1h-2zM267 220h2v1h-2zM344 220h1v1h-1zM496 220h3v1h-3zM147 221h30v1h-30zM265 221h2v1h-2zM345 221h2v1h-2zM493 221h3v1h-3zM141 222h6v1h-6zM177 222h4v1h-4zM263 222h2v1h-2zM347 222h2v1h-2zM491 222h2v1h-2zM137 223h4v1h-4zM181 223h3v1h-3zM261 223h2v1h-2zM349 223h2v1h-2zM489 223h2v1h-2zM135 224h2v1h-2zM184 224h5v1h-5zM260 224h1v1h-1zM351 224h2v1h-2zM487 224h2v1h-2zM134 225h1v1h-1zM189 225h4v1h-4zM258 225h2v1h-2zM353 225h2v1h-2zM477 225h10v1h-10zM132 226h2v1h-2zM193 226h3v1h-3zM256 226h2v1h-2zM355 226h3v1h-3zM471 226h6v1h-6zM131 227h1v1h-1zM196 227h3v1h-3zM253 227h3v1h-3zM358 227h11v1h-11zM466 227h5v1h-5zM129 228h2v1h-2zM199 228h3v1h-3zM249 228h4v1h-4zM369 228h12v1h-12zM463 228h3v1h-3zM128 229h1v1h-1zM202 229h5v1h-5zM244 229h5v1h-5zM381 229h6v1h-6zM399 229h6v1h-6zM459 229h4v1h-4zM126 230h2v1h-2zM207 230h4v1h-4zM241 230h3v1h-3zM387 230h12v1h-12zM405 230h12v1h-12zM453 230h6v1h-6zM125 231h1v1h-1zM211 231h3v1h-3zM237 231h4v1h-4zM417 231h4v1h-4zM441 231h12v1h-12zM124 232h1v1h-1zM214 232h5v1h-5zM225 232h12v1h-12zM421 232h3v1h-3zM429 232h12v1h-12zM123 233h1v1h-1zM219 233h6v1h-6zM424 233h5v1h-5zM121 234h2v1h-2zM120 235h1v1h-1zM119 236h1v1h-1zM118 237h1v1h-1zM117 238h1v1h-1zM116 239h1v1h-1zM115 240h1v1h-1zM114 241h1v1h-1zM113 242h1v1h-1zM112 243h1v1h-1zM111 244h1v1h-1zM110 245h1v1h-1zM109 246h1v1h-1zM108 247h1v1h-1zM107 248h1v1h-1zM106 249h1v1h-1zM105 250h1v1h-1zM103 251h2v1h-2zM102 252h1v1h-1zM101 253h1v1h-1zM100 254h1v1h-1zM99 255h1v1h-1zM97 256h2v1h-2zM96 257h1v1h-1zM95 258h1v1h-1zM93 259h2v1h-2zM92 260h1v1h-1zM90 261h2v1h-2zM89 262h1v1h-1zM88 263h1v1h-1zM87 264h1v1h-1zM86 265h1v1h-1zM85 266h1v1h-1zM84 267h1v1h-1zM83 268h1v1h-1zM82 269h1v1h-1zM81 270h1v1h-1zM79 271h2v1h-2zM78 272h1v1h-1zM77 273h1v1h-1zM75 274h2v1h-2zM73 275h2v1h-2zM71 276h2v1h-2zM69 277h2v1h-2zM67 278h2v1h-2zM65 279h2v1h-2zM63 280h2v1h-2zM62 281h1v1h-1zM60 282h2v1h-2zM59 283h1v1h-1zM57 284h2v1h-2zM56 285h1v1h-1zM54 286h2v1h-2zM52 287h2v1h-2zM49 288h3v1h-3zM45 289h4v1h-4zM39 290h6v1h-6zM33 291h6v1h-6zM27 292h6v1h-6zM22 293h5v1h-5zM19 294h3v1h-3zM16 295h3v1h-3zM13 296h3v1h-3zM11 297h2v1h-2zM9 298h2v1h-2zM8 299h1v1h-1zM6 300h2v1h-2zM5 301h1v1h-1zM3 302h2v1h-2zM1 303h2v1h-2zM-1 304h2v1h-2z" fill="#00008b" shape-rendering="crispEdges"/>
<path d="M976 65h2v1h-2zM973 66h3v1h-3zM969 67h4v1h-4zM965 68h4v1h-4zM963 69h2v1h-2zM962 70h1v1h-1zM960 71h2v1h-2zM959 72h1v1h-1zM957 73h2v1h-2zM956 74h1v1h-1zM954 75h2v1h-2zM953 76h1v1h-1zM951 77h2v1h-2zM950 78h1v1h-1zM948 79h2v1h-2zM947 80h1v1h-1zM945 81h2v1h-2zM944 82h1v1h-1zM942 83h2v1h-2zM941 84h1v1h-1zM939 85h2v1h-2zM937 86h2v1h-2zM935 87h2v1h-2zM933 88h2v1h-2zM932 89h1v1h-1zM930 90h2v1h-2zM929 91h1v1h-1zM928 92h1v1h-1zM927 93h1v1h-1zM926 94h1v1h-1zM925 95h1v1h-1zM924 96h1v1h-1zM923 97h1v1h-1zM922 98h1v1h-1zM921 99h1v1h-1zM919 100h2v1h-2zM918 101h1v1h-1zM917 102h1v1h-1zM855 103h10v1h-10zM915 103h2v1h-2zM850 104h5v1h-5zM865 104h3v1h-3zM913 104h2v1h-2zM847 105h3v1h-3zM868 105h3v1h-3zM910 105h3v1h-3zM845 106h2v1h-2zM871 106h3v1h-3zM907 106h3v1h-3zM843 107h2v1h-2zM874 107h3v1h-3zM886 107h21v1h-21zM841 108h2v1h-2zM877 108h3v1h-3zM883 108h3v1h-3zM839 109h2v1h-2zM880 109h3v1h-3zM837 110h2v1h-2zM836 111h1v1h-1zM834 112h2v1h-2zM833 113h1v1h-1zM831 114h2v1h-2zM829 115h2v1h-2zM827 116h2v1h-2zM825 117h2v1h-2zM823 118h2v1h-2zM821 119h2v1h-2zM819 120h2v1h-2zM818 121h1v1h-1zM816 122h2v1h-2zM815 123h1v1h-1zM813 124h2v1h-2zM812 125h1v1h-1zM810 126h2v1h-2zM809 127h1v1h-1zM808 128h1v1h-1zM807 129h1v1h-1zM806 130h1v1h-1zM805 131h1v1h-1zM804 132h1v1h-1zM803 133h1v1h-1zM802 134h1v1h-1zM801 135h1v1h-1zM799 136h2v1h-2zM798 137h1v1h-1zM797 138h1v1h-1zM796 139h1v1h-1zM795 140h1v1h-1zM793 141h2v1h-2zM792 142h1v1h-1zM791 143h1v1h-1zM789 144h2v1h-2zM788 145h1v1h-1zM786 146h2v1h-2zM784 147h2v1h-2zM781 148h3v1h-3zM779 149h2v1h-2zM777 150h2v1h-2zM775 151h2v1h-2zM773 152h2v1h-2zM771 153h2v1h-2zM770 154h1v1h-1zM768 155h2v1h-2zM767 156h1v1h-1zM765 157h2v1h-2zM699 158h18v1h-18zM763 158h2v1h-2zM694 159h5v1h-5zM717 159h18v1h-18zM760 159h3v1h-3zM691 160h3v1h-3zM735 160h6v1h-6zM757 160h3v1h-3zM689 161h2v1h-2zM741 161h16v1h-16zM687 162h2v1h-2zM685 163h2v1h-2zM682 164h3v1h-3zM679 165h3v1h-3zM676 166h3v1h-3zM673 167h3v1h-3zM670 168h3v1h-3zM667 169h3v1h-3zM665 170h2v1h-2zM664 171h1v1h-1zM663 172h1v1h-1zM661 173h2v1h-2zM660 174h1v1h-1zM659 175h1v1h-1zM658 176h1v1h-1zM657 177h1v1h-1zM655 178h2v1h-2zM654 179h1v1h-1zM653 180h1v1h-1zM652 181h1v1h-1zM651 182h1v1h-1zM649 183h2v1h-2zM648 184h1v1h-1zM647 185h1v1h-1zM645 186h2v1h-2zM644 187h1v1h-1zM642 188h2v1h-2zM639 189h3v1h-3zM627 190h12v1h-12zM622 191h5v1h-5zM538 192h5v1h-5zM619 192h3v1h-3zM535 193h3v1h-3zM543 193h4v1h-4zM616 193h3v1h-3zM531 194h4v1h-4zM547 194h3v1h-3zM613 194h3v1h-3zM526 195h5v1h-5zM550 195h5v1h-5zM610 195h3v1h-3zM523 196h3v1h-3zM555 196h3v1h-3zM607 196h3v1h-3zM521 197h2v1h-2zM558 197h2v1h-2zM591 197h6v1h-6zM603 197h4v1h-4zM519 198h2v1h-2zM560 198h1v1h-1zM586 198h5v1h-5zM597 198h6v1h-6zM517 199h2v1h-2zM561 199h2v1h-2zM583 199h3v1h-3zM515 200h2v1h-2zM563 200h2v1h-2zM580 200h3v1h-3zM513 201h2v1h-2zM565 201h3v1h-3zM577 201h3v1h-3zM512 202h1v1h-1zM568 202h9v1h-9zM510 203h2v1h-2zM509 204h1v1h-1zM508 205h1v1h-1zM507 206h1v1h-1zM505 207h2v1h-2zM274 208h5v1h-5zM504 208h1v1h-1zM271 209h3v1h-3zM279 209h6v1h-6zM503 209h1v1h-1zM269 210h2v1h-2zM285 210h12v1h-12zM501 210h2v1h-2zM268 211h1v1h-1zM297 211h4v1h-4zM500 211h1v1h-1zM267 212h1v1h-1zM301 212h3v1h-3zM498 212h2v1h-2zM265 213h2v1h-2zM304 213h3v1h-3zM497 213h1v1h-1zM264 214h1v1h-1zM307 214h2v1h-2zM495 214h2v1h-2zM136 215h5v1h-5zM263 215h1v1h-1zM309 215h2v1h-2zM494 215h1v1h-1zM133 216h3v1h-3zM141 216h6v1h-6zM262 216h1v1h-1zM311 216h1v1h-1zM492 216h2v1h-2zM130 217h3v1h-3zM147 217h4v1h-4zM261 217h1v1h-1zM312 217h2v1h-2zM491 217h1v1h-1zM127 218h3v1h-3zM151 218h3v1h-3zM259 218h2v1h-2zM314 218h1v1h-1zM489 218h2v1h-2zM125 219h2v1h-2zM154 219h5v1h-5zM258 219h1v1h-1zM315 219h2v1h-2zM487 219h2v1h-2zM123 220h2v1h-2zM159 220h4v1h-4zM257 220h1v1h-1zM317 220h2v1h-2zM484 220h3v1h-3zM121 221h2v1h-2zM163 221h3v1h-3zM255 221h2v1h-2zM319 221h2v1h-2zM481 221h3v1h-3zM119 222h2v1h-2zM166 222h3v1h-3zM253 222h2v1h-2zM321 222h2v1h-2zM479 222h2v1h-2zM117 223h2v1h-2zM169 223h3v1h-3zM251 223h2v1h-2zM323 223h2v1h-2zM340 223h3v1h-3zM477 223h2v1h-2zM116 224h1v1h-1zM172 224h3v1h-3zM249 224h2v1h-2zM325 224h2v1h-2zM337 224h3v1h-3zM343 224h3v1h-3zM475 224h2v1h-2zM114 225h2v1h-2zM175 225h2v1h-2zM248 225h1v1h-1zM327 225h2v1h-2zM333 225h4v1h-4zM346 225h3v1h-3zM471 225h4v1h-4zM113 226h1v1h-1zM177 226h2v1h-2zM246 226h2v1h-2zM329 226h4v1h-4zM349 226h3v1h-3zM467 226h4v1h-4zM112 227h1v1h-1zM179 227h2v1h-2zM245 227h1v1h-1zM352 227h5v1h-5zM465 227h2v1h-2zM111 228h1v1h-1zM181 228h3v1h-3zM243 228h2v1h-2zM357 228h6v1h-6zM463 228h2v1h-2zM109 229h2v1h-2zM184 229h2v1h-2zM241 229h2v1h-2zM363 229h6v1h-6zM459 229h4v1h-4zM108 230h1v1h-1zM186 230h2v1h-2zM238 230h3v1h-3zM369 230h6v1h-6zM411 230h18v1h-18zM435 230h24v1h-24zM107 231h1v1h-1zM188 231h1v1h-1zM235 231h3v1h-3zM375 231h12v1h-12zM405 231h6v1h-6zM429 231h6v1h-6zM105 232h2v1h-2zM189 232h2v1h-2zM232 232h3v1h-3zM387 232h4v1h-4zM400 232h5v1h-5zM104 233h1v1h-1zM191 233h4v1h-4zM229 233h3v1h-3zM391 233h3v1h-3zM397 233h3v1h-3zM102 234h2v1h-2zM195 234h18v1h-18zM225 234h4v1h-4zM394 234h3v1h-3zM101 235h1v1h-1zM213 235h12v1h-12zM100 236h1v1h-1zM99 237h1v1h-1zM98 238h1v1h-1zM97 239h1v1h-1zM96 240h1v1h-1zM95 241h1v1h-1zM94 242h1v1h-1zM93 243h1v1h-1zM92 244h1v1h-1zM91 245h1v1h-1zM90 246h1v1h-1zM89 247h1v1h-1zM88 248h1v1h-1zM87 249h1v1h-1zM87 250h1v1h-1zM86 251h1v1h-1zM85 252h1v1h-1zM84 253h1v1h-1zM84 254h1v1h-1zM83 255h1v1h-1zM82 256h1v1h-1zM81 257h1v1h-1zM80 258h1v1h-1zM80 259h1v1h-1zM79 260h1v1h-1zM78 261h1v1h-1zM77 262h1v1h-1zM76 263h1v1h-1zM75 264h1v1h-1zM74 265h1v1h-1zM74 266h1v1h-1zM73 267h1v1h-1zM72 268h1v1h-1zM71 269h1v1h-1zM70 270h1v1h-1zM69 271h1v1h-1zM67 272h2v1h-2zM66 273h1v1h-1zM65 274h1v1h-1zM63 275h2v1h-2zM62 276h1v1h-1zM60 277h2v1h-2zM59 278h1v1h-1zM58 279h1v1h-1zM57 280h1v1h-1zM56 281h1v1h-1zM55 282h1v1h-1zM54 283h1v1h-1zM53 284h1v1h-1zM51 285h2v1h-2zM49 286h2v1h-2zM47 287h2v1h-2zM45 288h2v1h-2zM43 289h2v1h-2zM39 290h4v1h-4zM10 291h5v1h-5zM33 291h6v1h-6zM7 292h3v1h-3zM15 292h18v1h-18zM-1 293h8v1h-8z" fill="#000" shape-rendering="crispEdges"/>
<text x="917.5" y="46.7" font-size="12" fill="#d14545" font-weight="bold" textLength="44.5" lengthAdjust="spacingAndGlyphs">2789.95</text>
<g fill="#000" shape-rendering="crispEdges"><rect x="963" y="50" width="10" height="1"/><rect x="971" y="48" width="1" height="5"/><rect x="0" y="300" width="4" height="1"/></g>
<text x="4.5" y="312.2" font-size="12" fill="#5aa860" font-weight="bold" textLength="44.2" lengthAdjust="spacingAndGlyphs">2145.99</text>
<g fill="#aab3c0" shape-rendering="crispEdges">
<rect x="1008" y="30" width="1" height="1"/>
<rect x="1008" y="42" width="1" height="1"/>
<rect x="1008" y="53" width="1" height="1"/>
<rect x="1008" y="65" width="1" height="1"/>
<rect x="1008" y="76" width="3" height="1"/>
<rect x="1008" y="88" width="1" height="1"/>
<rect x="1008" y="99" width="1" height="1"/>
<rect x="1008" y="111" width="1" height="1"/>
<rect x="1008" y="122" width="1" height="1"/>
<rect x="1008" y="134" width="3" height="1"/>
<rect x="1008" y="145" width="1" height="1"/>
<rect x="1008" y="157" width="1" height="1"/>
<rect x="1008" y="168" width="1" height="1"/>
<rect x="1008" y="180" width="1" height="1"/>
<rect x="1008" y="192" width="3" height="1"/>
<rect x="1008" y="203" width="1" height="1"/>
<rect x="1008" y="215" width="1" height="1"/>
<rect x="1008" y="226" width="1" height="1"/>
<rect x="1008" y="238" width="1" height="1"/>
<rect x="1008" y="249" width="3" height="1"/>
<rect x="1008" y="261" width="1" height="1"/>
<rect x="1008" y="272" width="1" height="1"/>
<rect x="1008" y="284" width="1" height="1"/>
<rect x="1008" y="295" width="1" height="1"/>
<rect x="1008" y="307" width="3" height="1"/>
<rect x="1008" y="318" width="1" height="1"/>
<rect x="1008" y="330" width="1" height="1"/>
<rect x="1008" y="341" width="1" height="1"/>
<rect x="1008" y="353" width="1" height="1"/>
<rect x="1008" y="391" width="1" height="1"/>
<rect x="1008" y="396" width="1" height="1"/>
<rect x="1008" y="400" width="1" height="1"/>
<rect x="1008" y="405" width="1" height="1"/>
<rect x="1008" y="410" width="3" height="1"/>
<rect x="1008" y="414" width="1" height="1"/>
<rect x="1008" y="419" width="1" height="1"/>
<rect x="1008" y="424" width="1" height="1"/>
<rect x="1008" y="428" width="1" height="1"/>
<rect x="1008" y="433" width="3" height="1"/>
<rect x="1008" y="438" width="1" height="1"/>
<rect x="1008" y="442" width="1" height="1"/>
<rect x="1008" y="447" width="1" height="1"/>
<rect x="1008" y="451" width="1" height="1"/>
<rect x="1008" y="456" width="3" height="1"/>
<rect x="1008" y="461" width="1" height="1"/>
<rect x="1008" y="465" width="1" height="1"/>
<rect x="1008" y="470" width="1" height="1"/>
<rect x="1008" y="474" width="1" height="1"/>
<rect x="1008" y="479" width="3" height="1"/>
<rect x="1008" y="484" width="1" height="1"/>
<rect x="1008" y="488" width="1" height="1"/>
<rect x="1008" y="493" width="1" height="1"/>
<rect x="1008" y="497" width="1" height="1"/>
<rect x="1008" y="502" width="1" height="1"/>
</g>
<text x="1010.4" y="22.9" font-size="12" fill="#1f2430" textLength="44.4" lengthAdjust="spacingAndGlyphs">2867.22</text>
<text x="1010.4" y="138" font-size="12" fill="#1f2430" textLength="44.4" lengthAdjust="spacingAndGlyphs">2571.03</text>
<text x="1010.4" y="195.8" font-size="12" fill="#1f2430" textLength="44.4" lengthAdjust="spacingAndGlyphs">2422.93</text>
<text x="1010.4" y="252.8" font-size="12" fill="#1f2430" textLength="44.4" lengthAdjust="spacingAndGlyphs">2274.84</text>
<text x="1010.4" y="310.8" font-size="12" fill="#1f2430" textLength="44.4" lengthAdjust="spacingAndGlyphs">2126.74</text>
<text x="1010.5" y="390.8" font-size="12" fill="#1f2430">65.10</text>
<text x="1010.5" y="413.8" font-size="12" fill="#1f2430">46.29</text>
<text x="1010.5" y="436.8" font-size="12" fill="#1f2430">27.49</text>
<text x="1010.5" y="459.8" font-size="12" fill="#1f2430">8.69</text>
<text x="1010.5" y="482.8" font-size="12" fill="#1f2430">-10.12</text>
<rect x="1007.5" y="64.5" width="70" height="17" fill="#fff" stroke="#ff8000" stroke-width="1" shape-rendering="crispEdges"/>
<text x="1011.3" y="77.2" font-size="12" fill="#ff8000" textLength="44" lengthAdjust="spacingAndGlyphs">2752.09</text>
<path d="M1071 56.5 L1075 60 L1067 60 Z M1071 60.5 L1075.5 64.5 L1066.5 64.5 Z" fill="#ff8000"/>
<text x="-3" y="12.4" font-size="12" fill="#1f2430" textLength="48" lengthAdjust="spacingAndGlyphs">现货黄金</text>
<text x="45" y="12.4" font-size="12" fill="#ff8000" font-weight="300" textLength="48" lengthAdjust="spacingAndGlyphs">【日线】</text>
<g stroke="#ff8000" stroke-width="0.8" fill="none"><circle cx="97.8" cy="9" r="4.3"/><path d="M93.5 9H102.1M97.8 4.7V13.3"/></g>
<g shape-rendering="crispEdges"><rect x="110.5" y="-1.5" width="11" height="13" fill="#fff" stroke="#1a1a8c" stroke-width="1"/><rect x="121" y="0" width="1" height="12" fill="#1a1a8c"/><rect x="111" y="11" width="11" height="1" fill="#1a1a8c"/></g>
<polyline points="111.2,6.3 114,2.6 116.6,5 119,3.4 121,3.4" fill="none" stroke="#ff2020" stroke-width="1.2"/>
<polyline points="111.2,9.2 113.7,5.5 117,8.4 119.2,6.3 121,6.3" fill="none" stroke="#2030ff" stroke-width="1.2"/>
<text x="125.6" y="12.2" font-size="12.5" fill="#111" textLength="132.4" lengthAdjust="spacingAndGlyphs" stroke="#111" stroke-width="0.2">MA(9,14,20,50,100,200)</text>
<text x="263.2" y="12.2" font-size="12.5" fill="#111" textLength="73.8" lengthAdjust="spacingAndGlyphs" stroke="#111" stroke-width="0.2">MA9:2164.80</text>
<text x="346.6" y="12.2" font-size="12.5" fill="#16169a" textLength="81.2" lengthAdjust="spacingAndGlyphs">MA14:2134.76</text>
<text x="436" y="12.2" font-size="12.5" fill="#ff00ff" textLength="81.5" lengthAdjust="spacingAndGlyphs">MA20:2102.88</text>
<text x="526" y="12.2" font-size="12.5" fill="#ff8000" textLength="81" lengthAdjust="spacingAndGlyphs">MA50:2056.50</text>
<text x="616.6" y="12.2" font-size="12.5" fill="#6e7480" textLength="88" lengthAdjust="spacingAndGlyphs">MA100:2033.93</text>
<text x="713" y="12.2" font-size="12.5" fill="#d04545" textLength="88" lengthAdjust="spacingAndGlyphs">MA200:1978.64</text>
<g shape-rendering="crispEdges">
<rect x="944" y="0" width="14" height="13" fill="#1a73c9"/>
<g fill="#fff"><rect x="950" y="1" width="2" height="3"/><rect x="950" y="9" width="2" height="3"/><rect x="946" y="5" width="3" height="2"/><rect x="953" y="5" width="3" height="2"/><rect x="950" y="5" width="2" height="2"/></g>
<rect x="960.5" y="-0.5" width="13" height="13" fill="#fff" stroke="#1a73c9" stroke-width="1"/>
<rect x="976.5" y="-0.5" width="13" height="13" fill="#fff" stroke="#1a73c9" stroke-width="1"/>
<rect x="992.5" y="-0.5" width="13" height="13" fill="#fff" stroke="#1a73c9" stroke-width="1"/>
</g>
<g fill="#1a73c9" stroke="none">
<rect x="963" y="2" width="1" height="9" shape-rendering="crispEdges"/>
<rect x="962" y="10" width="10" height="1" shape-rendering="crispEdges"/>
<path d="M963.5 0.8 L965 3 L962 3 Z"/>
<path d="M972.3 10.5 L970 9 L970 12 Z"/>
<path d="M961.8 10.5 L963.5 9.3 L963.5 11.7 Z"/>
<rect x="979" y="2" width="1" height="9" shape-rendering="crispEdges"/>
<rect x="978" y="10" width="10" height="1" shape-rendering="crispEdges"/>
<path d="M979.5 0.8 L981 3 L978 3 Z"/>
<path d="M988.3 10.5 L986 9 L986 12 Z"/>
<path d="M977.8 10.5 L979.5 9.3 L979.5 11.7 Z"/>
<rect x="966" y="2" width="1" height="6" shape-rendering="crispEdges"/>
<path d="M967.3 5 L970 2.3 L970 7.7 Z"/>
<path d="M982 2.5 L987 5.5 L982 8.5 Z"/>
<rect x="994.5" y="1.5" width="3" height="9" fill="none" stroke="#1a73c9" stroke-width="1" shape-rendering="crispEdges"/>
<rect x="996" y="5" width="6" height="2" shape-rendering="crispEdges"/>
<path d="M1000.3 3 L1003.6 6 L1000.3 9 Z"/>
</g>
<g shape-rendering="crispEdges">
<rect x="-1" y="461" width="1" height="8" fill="#cf3f36"/>
<rect x="5" y="462" width="1" height="7" fill="#cf3f36"/>
<rect x="11" y="463" width="1" height="6" fill="#cf3f36"/>
<rect x="17" y="463" width="1" height="6" fill="#cf3f36"/>
<rect x="23" y="468" width="1" height="2" fill="#5fa458"/>
<rect x="29" y="468" width="1" height="3" fill="#5fa458"/>
<rect x="35" y="468" width="1" height="5" fill="#5fa458"/>
<rect x="41" y="468" width="1" height="3" fill="#5fa458"/>
<rect x="47" y="464" width="1" height="5" fill="#cf3f36"/>
<rect x="53" y="458" width="1" height="11" fill="#cf3f36"/>
<rect x="59" y="451" width="1" height="18" fill="#cf3f36"/>
<rect x="65" y="446" width="1" height="23" fill="#cf3f36"/>
<rect x="71" y="446" width="1" height="23" fill="#cf3f36"/>
<rect x="77" y="442" width="1" height="27" fill="#cf3f36"/>
<rect x="83" y="440" width="1" height="29" fill="#cf3f36"/>
<rect x="89" y="439" width="1" height="30" fill="#cf3f36"/>
<rect x="95" y="444" width="1" height="25" fill="#cf3f36"/>
<rect x="101" y="444" width="1" height="25" fill="#cf3f36"/>
<rect x="107" y="450" width="1" height="19" fill="#cf3f36"/>
<rect x="113" y="450" width="1" height="19" fill="#cf3f36"/>
<rect x="119" y="453" width="1" height="16" fill="#cf3f36"/>
<rect x="125" y="460" width="1" height="9" fill="#cf3f36"/>
<rect x="131" y="463" width="1" height="6" fill="#cf3f36"/>
<rect x="137" y="465" width="1" height="4" fill="#cf3f36"/>
<rect x="143" y="468" width="1" height="11" fill="#5fa458"/>
<rect x="149" y="468" width="1" height="20" fill="#5fa458"/>
<rect x="155" y="468" width="1" height="28" fill="#5fa458"/>
<rect x="161" y="468" width="1" height="29" fill="#5fa458"/>
<rect x="167" y="468" width="1" height="29" fill="#5fa458"/>
<rect x="173" y="468" width="1" height="29" fill="#5fa458"/>
<rect x="179" y="468" width="1" height="35" fill="#5fa458"/>
<rect x="185" y="468" width="1" height="35" fill="#5fa458"/>
<rect x="191" y="468" width="1" height="35" fill="#5fa458"/>
<rect x="197" y="468" width="1" height="35" fill="#5fa458"/>
<rect x="203" y="468" width="1" height="30" fill="#5fa458"/>
<rect x="209" y="468" width="1" height="28" fill="#5fa458"/>
<rect x="215" y="468" width="1" height="27" fill="#5fa458"/>
<rect x="221" y="468" width="1" height="19" fill="#5fa458"/>
<rect x="227" y="468" width="1" height="11" fill="#5fa458"/>
<rect x="233" y="468" width="1" height="10" fill="#5fa458"/>
<rect x="239" y="468" width="1" height="6" fill="#5fa458"/>
<rect x="245" y="468" width="1" height="1" fill="#cf3f36"/>
<rect x="251" y="464" width="1" height="5" fill="#cf3f36"/>
<rect x="257" y="458" width="1" height="11" fill="#cf3f36"/>
<rect x="263" y="452" width="1" height="17" fill="#cf3f36"/>
<rect x="269" y="451" width="1" height="18" fill="#cf3f36"/>
<rect x="275" y="460" width="1" height="9" fill="#cf3f36"/>
<rect x="281" y="468" width="1" height="5" fill="#5fa458"/>
<rect x="287" y="468" width="1" height="13" fill="#5fa458"/>
<rect x="293" y="468" width="1" height="16" fill="#5fa458"/>
<rect x="299" y="468" width="1" height="15" fill="#5fa458"/>
<rect x="305" y="468" width="1" height="18" fill="#5fa458"/>
<rect x="311" y="468" width="1" height="19" fill="#5fa458"/>
<rect x="317" y="468" width="1" height="21" fill="#5fa458"/>
<rect x="323" y="468" width="1" height="18" fill="#5fa458"/>
<rect x="329" y="468" width="1" height="19" fill="#5fa458"/>
<rect x="335" y="468" width="1" height="15" fill="#5fa458"/>
<rect x="341" y="468" width="1" height="8" fill="#5fa458"/>
<rect x="347" y="468" width="1" height="17" fill="#5fa458"/>
<rect x="353" y="468" width="1" height="19" fill="#5fa458"/>
<rect x="359" y="468" width="1" height="19" fill="#5fa458"/>
<rect x="365" y="468" width="1" height="16" fill="#5fa458"/>
<rect x="371" y="468" width="1" height="17" fill="#5fa458"/>
<rect x="377" y="468" width="1" height="12" fill="#5fa458"/>
<rect x="383" y="468" width="1" height="11" fill="#5fa458"/>
<rect x="389" y="468" width="1" height="8" fill="#5fa458"/>
<rect x="395" y="468" width="1" height="5" fill="#5fa458"/>
<rect x="401" y="467" width="1" height="2" fill="#cf3f36"/>
<rect x="407" y="468" width="1" height="2" fill="#5fa458"/>
<rect x="413" y="468" width="1" height="1" fill="#cf3f36"/>
<rect x="419" y="468" width="1" height="2" fill="#5fa458"/>
<rect x="425" y="468" width="1" height="6" fill="#5fa458"/>
<rect x="431" y="468" width="1" height="4" fill="#5fa458"/>
<rect x="437" y="468" width="1" height="2" fill="#5fa458"/>
<rect x="443" y="468" width="1" height="1" fill="#cf3f36"/>
<rect x="449" y="467" width="1" height="2" fill="#cf3f36"/>
<rect x="455" y="463" width="1" height="6" fill="#cf3f36"/>
<rect x="461" y="460" width="1" height="9" fill="#cf3f36"/>
<rect x="467" y="452" width="1" height="17" fill="#cf3f36"/>
<rect x="473" y="455" width="1" height="14" fill="#cf3f36"/>
<rect x="479" y="456" width="1" height="13" fill="#cf3f36"/>
<rect x="485" y="456" width="1" height="13" fill="#cf3f36"/>
<rect x="491" y="450" width="1" height="19" fill="#cf3f36"/>
<rect x="497" y="447" width="1" height="22" fill="#cf3f36"/>
<rect x="503" y="444" width="1" height="25" fill="#cf3f36"/>
<rect x="509" y="438" width="1" height="31" fill="#cf3f36"/>
<rect x="515" y="437" width="1" height="32" fill="#cf3f36"/>
<rect x="521" y="441" width="1" height="28" fill="#cf3f36"/>
<rect x="527" y="452" width="1" height="17" fill="#cf3f36"/>
<rect x="533" y="462" width="1" height="7" fill="#cf3f36"/>
<rect x="539" y="466" width="1" height="3" fill="#cf3f36"/>
<rect x="545" y="468" width="1" height="3" fill="#5fa458"/>
<rect x="551" y="468" width="1" height="12" fill="#5fa458"/>
<rect x="557" y="468" width="1" height="14" fill="#5fa458"/>
<rect x="563" y="468" width="1" height="15" fill="#5fa458"/>
<rect x="569" y="468" width="1" height="12" fill="#5fa458"/>
<rect x="575" y="468" width="1" height="3" fill="#5fa458"/>
<rect x="581" y="466" width="1" height="3" fill="#cf3f36"/>
<rect x="587" y="464" width="1" height="5" fill="#cf3f36"/>
<rect x="593" y="468" width="1" height="2" fill="#5fa458"/>
<rect x="599" y="468" width="1" height="7" fill="#5fa458"/>
<rect x="605" y="468" width="1" height="13" fill="#5fa458"/>
<rect x="611" y="468" width="1" height="8" fill="#5fa458"/>
<rect x="617" y="468" width="1" height="5" fill="#5fa458"/>
<rect x="623" y="465" width="1" height="4" fill="#cf3f36"/>
<rect x="629" y="461" width="1" height="8" fill="#cf3f36"/>
<rect x="635" y="462" width="1" height="7" fill="#cf3f36"/>
<rect x="641" y="462" width="1" height="7" fill="#cf3f36"/>
<rect x="647" y="455" width="1" height="14" fill="#cf3f36"/>
<rect x="653" y="452" width="1" height="17" fill="#cf3f36"/>
<rect x="659" y="450" width="1" height="19" fill="#cf3f36"/>
<rect x="665" y="450" width="1" height="19" fill="#cf3f36"/>
<rect x="671" y="456" width="1" height="13" fill="#cf3f36"/>
<rect x="677" y="457" width="1" height="12" fill="#cf3f36"/>
<rect x="683" y="457" width="1" height="12" fill="#cf3f36"/>
<rect x="689" y="457" width="1" height="12" fill="#cf3f36"/>
<rect x="695" y="463" width="1" height="6" fill="#cf3f36"/>
<rect x="701" y="463" width="1" height="6" fill="#cf3f36"/>
<rect x="707" y="468" width="1" height="1" fill="#cf3f36"/>
<rect x="713" y="468" width="1" height="5" fill="#5fa458"/>
<rect x="719" y="468" width="1" height="9" fill="#5fa458"/>
<rect x="725" y="468" width="1" height="11" fill="#5fa458"/>
<rect x="731" y="468" width="1" height="9" fill="#5fa458"/>
<rect x="737" y="468" width="1" height="11" fill="#5fa458"/>
<rect x="743" y="468" width="1" height="11" fill="#5fa458"/>
<rect x="749" y="468" width="1" height="9" fill="#5fa458"/>
<rect x="755" y="468" width="1" height="9" fill="#5fa458"/>
<rect x="761" y="468" width="1" height="2" fill="#5fa458"/>
<rect x="767" y="462" width="1" height="7" fill="#cf3f36"/>
<rect x="773" y="457" width="1" height="12" fill="#cf3f36"/>
<rect x="779" y="457" width="1" height="12" fill="#cf3f36"/>
<rect x="785" y="461" width="1" height="8" fill="#cf3f36"/>
<rect x="791" y="459" width="1" height="10" fill="#cf3f36"/>
<rect x="797" y="453" width="1" height="16" fill="#cf3f36"/>
<rect x="803" y="451" width="1" height="18" fill="#cf3f36"/>
<rect x="809" y="445" width="1" height="24" fill="#cf3f36"/>
<rect x="815" y="444" width="1" height="25" fill="#cf3f36"/>
<rect x="821" y="443" width="1" height="26" fill="#cf3f36"/>
<rect x="827" y="447" width="1" height="22" fill="#cf3f36"/>
<rect x="833" y="455" width="1" height="14" fill="#cf3f36"/>
<rect x="839" y="457" width="1" height="12" fill="#cf3f36"/>
<rect x="845" y="461" width="1" height="8" fill="#cf3f36"/>
<rect x="851" y="465" width="1" height="4" fill="#cf3f36"/>
<rect x="857" y="468" width="1" height="2" fill="#5fa458"/>
<rect x="863" y="468" width="1" height="7" fill="#5fa458"/>
<rect x="869" y="468" width="1" height="14" fill="#5fa458"/>
<rect x="875" y="468" width="1" height="21" fill="#5fa458"/>
<rect x="881" y="468" width="1" height="21" fill="#5fa458"/>
<rect x="887" y="468" width="1" height="17" fill="#5fa458"/>
<rect x="893" y="468" width="1" height="16" fill="#5fa458"/>
<rect x="899" y="468" width="1" height="13" fill="#5fa458"/>
<rect x="905" y="468" width="1" height="9" fill="#5fa458"/>
<rect x="911" y="468" width="1" height="4" fill="#5fa458"/>
<rect x="917" y="464" width="1" height="5" fill="#cf3f36"/>
<rect x="923" y="462" width="1" height="7" fill="#cf3f36"/>
<rect x="929" y="455" width="1" height="14" fill="#cf3f36"/>
<rect x="935" y="458" width="1" height="11" fill="#cf3f36"/>
<rect x="941" y="458" width="1" height="11" fill="#cf3f36"/>
<rect x="947" y="458" width="1" height="11" fill="#cf3f36"/>
<rect x="953" y="460" width="1" height="9" fill="#cf3f36"/>
<rect x="959" y="457" width="1" height="12" fill="#cf3f36"/>
<rect x="965" y="455" width="1" height="14" fill="#cf3f36"/>
<rect x="971" y="462" width="1" height="7" fill="#cf3f36"/>
<rect x="977" y="466" width="1" height="3" fill="#cf3f36"/>
</g>
<path d="M129 393h12v1h-12zM123 394h6v1h-6zM141 394h4v1h-4zM118 395h5v1h-5zM145 395h3v1h-3zM115 396h3v1h-3zM148 396h3v1h-3zM112 397h3v1h-3zM151 397h2v1h-2zM109 398h3v1h-3zM153 398h2v1h-2zM107 399h2v1h-2zM155 399h1v1h-1zM105 400h2v1h-2zM156 400h2v1h-2zM103 401h2v1h-2zM158 401h1v1h-1zM101 402h2v1h-2zM159 402h2v1h-2zM99 403h2v1h-2zM161 403h1v1h-1zM97 404h2v1h-2zM162 404h2v1h-2zM95 405h2v1h-2zM164 405h1v1h-1zM93 406h2v1h-2zM165 406h2v1h-2zM91 407h2v1h-2zM167 407h1v1h-1zM89 408h2v1h-2zM168 408h2v1h-2zM87 409h2v1h-2zM170 409h1v1h-1zM85 410h2v1h-2zM171 410h2v1h-2zM83 411h2v1h-2zM173 411h1v1h-1zM81 412h2v1h-2zM174 412h2v1h-2zM79 413h2v1h-2zM176 413h1v1h-1zM77 414h2v1h-2zM177 414h2v1h-2zM75 415h2v1h-2zM179 415h1v1h-1zM73 416h2v1h-2zM180 416h1v1h-1zM844 416h17v1h-17zM71 417h2v1h-2zM181 417h2v1h-2zM841 417h3v1h-3zM861 417h6v1h-6zM69 418h2v1h-2zM183 418h1v1h-1zM837 418h4v1h-4zM867 418h4v1h-4zM969 418h9v1h-9zM67 419h2v1h-2zM184 419h1v1h-1zM832 419h5v1h-5zM871 419h3v1h-3zM963 419h6v1h-6zM64 420h3v1h-3zM185 420h1v1h-1zM829 420h3v1h-3zM874 420h3v1h-3zM957 420h6v1h-6zM61 421h3v1h-3zM186 421h2v1h-2zM826 421h3v1h-3zM877 421h3v1h-3zM952 421h5v1h-5zM58 422h3v1h-3zM188 422h1v1h-1zM823 422h3v1h-3zM880 422h3v1h-3zM949 422h3v1h-3zM55 423h3v1h-3zM189 423h2v1h-2zM821 423h2v1h-2zM883 423h3v1h-3zM945 423h4v1h-4zM52 424h3v1h-3zM191 424h1v1h-1zM819 424h2v1h-2zM886 424h3v1h-3zM940 424h5v1h-5zM49 425h3v1h-3zM192 425h2v1h-2zM817 425h2v1h-2zM889 425h2v1h-2zM937 425h3v1h-3zM9 426h40v1h-40zM194 426h1v1h-1zM814 426h3v1h-3zM891 426h2v1h-2zM933 426h4v1h-4zM3 427h6v1h-6zM195 427h2v1h-2zM811 427h3v1h-3zM893 427h4v1h-4zM927 427h6v1h-6zM-1 428h4v1h-4zM197 428h2v1h-2zM809 428h2v1h-2zM897 428h6v1h-6zM921 428h6v1h-6zM199 429h2v1h-2zM807 429h2v1h-2zM903 429h18v1h-18zM201 430h2v1h-2zM805 430h2v1h-2zM203 431h1v1h-1zM803 431h2v1h-2zM204 432h2v1h-2zM801 432h2v1h-2zM206 433h1v1h-1zM693 433h22v1h-22zM799 433h2v1h-2zM207 434h2v1h-2zM687 434h6v1h-6zM715 434h3v1h-3zM796 434h3v1h-3zM209 435h2v1h-2zM681 435h6v1h-6zM718 435h5v1h-5zM793 435h3v1h-3zM211 436h3v1h-3zM676 436h5v1h-5zM723 436h6v1h-6zM789 436h4v1h-4zM214 437h3v1h-3zM273 437h10v1h-10zM673 437h3v1h-3zM729 437h6v1h-6zM783 437h6v1h-6zM217 438h2v1h-2zM267 438h6v1h-6zM283 438h3v1h-3zM670 438h3v1h-3zM735 438h6v1h-6zM777 438h6v1h-6zM219 439h2v1h-2zM262 439h5v1h-5zM286 439h3v1h-3zM667 439h3v1h-3zM741 439h6v1h-6zM771 439h6v1h-6zM221 440h2v1h-2zM259 440h3v1h-3zM289 440h3v1h-3zM664 440h3v1h-3zM747 440h6v1h-6zM765 440h6v1h-6zM223 441h3v1h-3zM255 441h4v1h-4zM292 441h3v1h-3zM537 441h6v1h-6zM661 441h3v1h-3zM753 441h12v1h-12zM226 442h5v1h-5zM249 442h6v1h-6zM295 442h3v1h-3zM531 442h6v1h-6zM543 442h6v1h-6zM659 442h2v1h-2zM231 443h6v1h-6zM243 443h6v1h-6zM298 443h3v1h-3zM526 443h5v1h-5zM549 443h4v1h-4zM657 443h2v1h-2zM237 444h6v1h-6zM301 444h3v1h-3zM523 444h3v1h-3zM553 444h3v1h-3zM655 444h2v1h-2zM304 445h3v1h-3zM520 445h3v1h-3zM556 445h3v1h-3zM652 445h3v1h-3zM307 446h2v1h-2zM517 446h3v1h-3zM559 446h3v1h-3zM649 446h3v1h-3zM309 447h2v1h-2zM515 447h2v1h-2zM562 447h5v1h-5zM585 447h6v1h-6zM645 447h4v1h-4zM311 448h2v1h-2zM513 448h2v1h-2zM567 448h18v1h-18zM591 448h6v1h-6zM639 448h6v1h-6zM313 449h3v1h-3zM511 449h2v1h-2zM597 449h6v1h-6zM633 449h6v1h-6zM316 450h3v1h-3zM509 450h2v1h-2zM603 450h12v1h-12zM621 450h12v1h-12zM319 451h3v1h-3zM507 451h2v1h-2zM615 451h6v1h-6zM322 452h3v1h-3zM506 452h1v1h-1zM325 453h3v1h-3zM504 453h2v1h-2zM328 454h3v1h-3zM503 454h1v1h-1zM331 455h3v1h-3zM501 455h2v1h-2zM334 456h5v1h-5zM499 456h2v1h-2zM339 457h4v1h-4zM497 457h2v1h-2zM343 458h3v1h-3zM495 458h2v1h-2zM346 459h3v1h-3zM493 459h2v1h-2zM349 460h2v1h-2zM490 460h3v1h-3zM351 461h2v1h-2zM487 461h3v1h-3zM353 462h2v1h-2zM485 462h2v1h-2zM355 463h3v1h-3zM483 463h2v1h-2zM358 464h3v1h-3zM481 464h2v1h-2zM361 465h3v1h-3zM477 465h4v1h-4zM364 466h3v1h-3zM472 466h5v1h-5zM367 467h3v1h-3zM469 467h3v1h-3zM370 468h5v1h-5zM466 468h3v1h-3zM375 469h6v1h-6zM463 469h3v1h-3zM381 470h6v1h-6zM459 470h4v1h-4zM387 471h6v1h-6zM399 471h24v1h-24zM453 471h6v1h-6zM393 472h6v1h-6zM423 472h30v1h-30z" fill="#00008b" shape-rendering="crispEdges"/>
<path d="M111 388h12v1h-12zM101 389h10v1h-10zM123 389h4v1h-4zM99 390h2v1h-2zM127 390h3v1h-3zM97 391h2v1h-2zM130 391h5v1h-5zM93 392h4v1h-4zM135 392h3v1h-3zM89 393h4v1h-4zM138 393h1v1h-1zM87 394h2v1h-2zM139 394h1v1h-1zM86 395h1v1h-1zM140 395h1v1h-1zM84 396h2v1h-2zM140 396h1v1h-1zM83 397h1v1h-1zM141 397h1v1h-1zM81 398h2v1h-2zM142 398h1v1h-1zM80 399h1v1h-1zM143 399h1v1h-1zM78 400h2v1h-2zM144 400h1v1h-1zM77 401h1v1h-1zM145 401h1v1h-1zM75 402h2v1h-2zM146 402h1v1h-1zM74 403h1v1h-1zM146 403h1v1h-1zM72 404h2v1h-2zM147 404h1v1h-1zM71 405h1v1h-1zM148 405h1v1h-1zM69 406h2v1h-2zM149 406h1v1h-1zM67 407h2v1h-2zM150 407h1v1h-1zM65 408h2v1h-2zM151 408h1v1h-1zM64 409h1v1h-1zM152 409h1v1h-1zM63 410h1v1h-1zM152 410h1v1h-1zM821 410h8v1h-8zM62 411h1v1h-1zM153 411h1v1h-1zM819 411h2v1h-2zM829 411h3v1h-3zM61 412h1v1h-1zM154 412h1v1h-1zM818 412h1v1h-1zM832 412h15v1h-15zM60 413h1v1h-1zM155 413h1v1h-1zM816 413h2v1h-2zM847 413h3v1h-3zM964 413h3v1h-3zM59 414h1v1h-1zM156 414h1v1h-1zM815 414h1v1h-1zM850 414h3v1h-3zM961 414h3v1h-3zM967 414h3v1h-3zM58 415h1v1h-1zM157 415h2v1h-2zM813 415h2v1h-2zM853 415h3v1h-3zM959 415h2v1h-2zM970 415h3v1h-3zM57 416h1v1h-1zM159 416h1v1h-1zM812 416h1v1h-1zM856 416h2v1h-2zM957 416h2v1h-2zM973 416h2v1h-2zM55 417h2v1h-2zM160 417h1v1h-1zM810 417h2v1h-2zM858 417h2v1h-2zM955 417h2v1h-2zM975 417h2v1h-2zM54 418h1v1h-1zM161 418h2v1h-2zM809 418h1v1h-1zM860 418h1v1h-1zM951 418h4v1h-4zM977 418h1v1h-1zM53 419h1v1h-1zM163 419h2v1h-2zM808 419h1v1h-1zM861 419h2v1h-2zM939 419h12v1h-12zM51 420h2v1h-2zM165 420h2v1h-2zM807 420h1v1h-1zM863 420h1v1h-1zM933 420h6v1h-6zM50 421h1v1h-1zM167 421h1v1h-1zM805 421h2v1h-2zM864 421h1v1h-1zM929 421h4v1h-4zM-1 422h2v1h-2zM48 422h2v1h-2zM168 422h2v1h-2zM804 422h1v1h-1zM865 422h2v1h-2zM927 422h2v1h-2zM1 423h3v1h-3zM9 423h10v1h-10zM47 423h1v1h-1zM170 423h1v1h-1zM803 423h1v1h-1zM867 423h1v1h-1zM925 423h2v1h-2zM4 424h5v1h-5zM19 424h3v1h-3zM46 424h1v1h-1zM171 424h2v1h-2zM801 424h2v1h-2zM868 424h1v1h-1zM923 424h2v1h-2zM22 425h3v1h-3zM45 425h1v1h-1zM173 425h1v1h-1zM800 425h1v1h-1zM869 425h1v1h-1zM921 425h2v1h-2zM25 426h3v1h-3zM43 426h2v1h-2zM174 426h1v1h-1zM798 426h2v1h-2zM870 426h1v1h-1zM919 426h2v1h-2zM28 427h5v1h-5zM42 427h1v1h-1zM175 427h1v1h-1zM797 427h1v1h-1zM871 427h2v1h-2zM917 427h2v1h-2zM33 428h9v1h-9zM176 428h1v1h-1zM795 428h2v1h-2zM873 428h1v1h-1zM915 428h2v1h-2zM176 429h1v1h-1zM687 429h6v1h-6zM794 429h1v1h-1zM874 429h1v1h-1zM914 429h1v1h-1zM177 430h1v1h-1zM267 430h4v1h-4zM665 430h2v1h-2zM681 430h6v1h-6zM693 430h10v1h-10zM792 430h2v1h-2zM875 430h2v1h-2zM912 430h2v1h-2zM178 431h1v1h-1zM263 431h4v1h-4zM271 431h3v1h-3zM520 431h2v1h-2zM663 431h2v1h-2zM667 431h3v1h-3zM675 431h6v1h-6zM703 431h2v1h-2zM790 431h2v1h-2zM877 431h2v1h-2zM911 431h1v1h-1zM179 432h1v1h-1zM261 432h2v1h-2zM274 432h2v1h-2zM517 432h3v1h-3zM522 432h2v1h-2zM661 432h2v1h-2zM670 432h5v1h-5zM705 432h2v1h-2zM777 432h6v1h-6zM787 432h3v1h-3zM879 432h2v1h-2zM909 432h2v1h-2zM180 433h2v1h-2zM260 433h1v1h-1zM276 433h1v1h-1zM515 433h2v1h-2zM524 433h1v1h-1zM659 433h2v1h-2zM707 433h2v1h-2zM773 433h4v1h-4zM783 433h4v1h-4zM881 433h8v1h-8zM907 433h2v1h-2zM182 434h1v1h-1zM258 434h2v1h-2zM276 434h1v1h-1zM513 434h2v1h-2zM525 434h2v1h-2zM657 434h2v1h-2zM709 434h3v1h-3zM771 434h2v1h-2zM889 434h3v1h-3zM897 434h10v1h-10zM183 435h2v1h-2zM257 435h1v1h-1zM277 435h1v1h-1zM511 435h2v1h-2zM527 435h2v1h-2zM655 435h2v1h-2zM712 435h3v1h-3zM769 435h2v1h-2zM892 435h5v1h-5zM185 436h1v1h-1zM256 436h1v1h-1zM278 436h1v1h-1zM509 436h2v1h-2zM529 436h2v1h-2zM653 436h2v1h-2zM715 436h2v1h-2zM767 436h2v1h-2zM186 437h2v1h-2zM255 437h1v1h-1zM279 437h1v1h-1zM508 437h1v1h-1zM531 437h2v1h-2zM651 437h2v1h-2zM717 437h2v1h-2zM766 437h1v1h-1zM188 438h1v1h-1zM254 438h1v1h-1zM279 438h1v1h-1zM507 438h1v1h-1zM533 438h2v1h-2zM650 438h1v1h-1zM719 438h2v1h-2zM765 438h1v1h-1zM189 439h2v1h-2zM253 439h1v1h-1zM280 439h1v1h-1zM507 439h1v1h-1zM535 439h3v1h-3zM648 439h2v1h-2zM721 439h2v1h-2zM763 439h2v1h-2zM191 440h1v1h-1zM252 440h1v1h-1zM281 440h1v1h-1zM506 440h1v1h-1zM538 440h2v1h-2zM647 440h1v1h-1zM723 440h2v1h-2zM762 440h1v1h-1zM192 441h2v1h-2zM251 441h1v1h-1zM282 441h1v1h-1zM505 441h1v1h-1zM540 441h1v1h-1zM646 441h1v1h-1zM725 441h8v1h-8zM761 441h1v1h-1zM194 442h1v1h-1zM249 442h2v1h-2zM283 442h2v1h-2zM504 442h1v1h-1zM541 442h2v1h-2zM645 442h1v1h-1zM733 442h3v1h-3zM759 442h2v1h-2zM195 443h2v1h-2zM247 443h2v1h-2zM285 443h1v1h-1zM504 443h1v1h-1zM543 443h1v1h-1zM643 443h2v1h-2zM736 443h5v1h-5zM758 443h1v1h-1zM197 444h2v1h-2zM245 444h2v1h-2zM286 444h1v1h-1zM503 444h1v1h-1zM544 444h1v1h-1zM642 444h1v1h-1zM741 444h12v1h-12zM756 444h2v1h-2zM199 445h2v1h-2zM243 445h2v1h-2zM287 445h2v1h-2zM501 445h2v1h-2zM545 445h1v1h-1zM586 445h3v1h-3zM633 445h9v1h-9zM753 445h3v1h-3zM201 446h2v1h-2zM241 446h2v1h-2zM289 446h2v1h-2zM499 446h2v1h-2zM546 446h2v1h-2zM583 446h3v1h-3zM589 446h2v1h-2zM629 446h4v1h-4zM203 447h2v1h-2zM227 447h4v1h-4zM237 447h4v1h-4zM291 447h2v1h-2zM497 447h2v1h-2zM548 447h1v1h-1zM580 447h3v1h-3zM591 447h2v1h-2zM627 447h2v1h-2zM205 448h3v1h-3zM225 448h2v1h-2zM231 448h6v1h-6zM293 448h2v1h-2zM495 448h2v1h-2zM549 448h2v1h-2zM577 448h3v1h-3zM593 448h1v1h-1zM625 448h2v1h-2zM208 449h3v1h-3zM223 449h2v1h-2zM295 449h3v1h-3zM494 449h1v1h-1zM551 449h2v1h-2zM575 449h2v1h-2zM594 449h2v1h-2zM623 449h2v1h-2zM211 450h3v1h-3zM219 450h4v1h-4zM298 450h3v1h-3zM492 450h2v1h-2zM553 450h3v1h-3zM573 450h2v1h-2zM596 450h1v1h-1zM621 450h2v1h-2zM214 451h5v1h-5zM301 451h2v1h-2zM491 451h1v1h-1zM556 451h3v1h-3zM572 451h1v1h-1zM597 451h2v1h-2zM620 451h1v1h-1zM303 452h2v1h-2zM490 452h1v1h-1zM559 452h2v1h-2zM570 452h2v1h-2zM599 452h1v1h-1zM618 452h2v1h-2zM305 453h2v1h-2zM489 453h1v1h-1zM561 453h2v1h-2zM567 453h3v1h-3zM600 453h2v1h-2zM615 453h3v1h-3zM307 454h2v1h-2zM487 454h2v1h-2zM563 454h4v1h-4zM602 454h1v1h-1zM610 454h5v1h-5zM309 455h2v1h-2zM486 455h1v1h-1zM603 455h2v1h-2zM607 455h3v1h-3zM311 456h1v1h-1zM485 456h1v1h-1zM605 456h2v1h-2zM312 457h2v1h-2zM483 457h2v1h-2zM314 458h1v1h-1zM481 458h2v1h-2zM315 459h2v1h-2zM477 459h4v1h-4zM317 460h8v1h-8zM471 460h6v1h-6zM325 461h2v1h-2zM340 461h2v1h-2zM467 461h4v1h-4zM327 462h2v1h-2zM337 462h3v1h-3zM342 462h1v1h-1zM465 462h2v1h-2zM329 463h8v1h-8zM343 463h1v1h-1zM464 463h1v1h-1zM344 464h1v1h-1zM462 464h2v1h-2zM345 465h1v1h-1zM461 465h1v1h-1zM346 466h1v1h-1zM459 466h2v1h-2zM347 467h2v1h-2zM457 467h2v1h-2zM349 468h2v1h-2zM455 468h2v1h-2zM351 469h2v1h-2zM453 469h2v1h-2zM353 470h2v1h-2zM401 470h4v1h-4zM452 470h1v1h-1zM355 471h3v1h-3zM399 471h2v1h-2zM405 471h12v1h-12zM450 471h2v1h-2zM358 472h3v1h-3zM397 472h2v1h-2zM417 472h4v1h-4zM441 472h9v1h-9zM361 473h3v1h-3zM393 473h4v1h-4zM421 473h2v1h-2zM435 473h6v1h-6zM364 474h5v1h-5zM387 474h6v1h-6zM423 474h2v1h-2zM429 474h6v1h-6zM369 475h18v1h-18zM425 475h4v1h-4z" fill="#000" shape-rendering="crispEdges"/>
<text x="-0.5" y="379.7" font-size="12.5" fill="#111" textLength="82.6" lengthAdjust="spacingAndGlyphs" stroke="#111" stroke-width="0.2">MACD(26,12,9)</text>
<text x="88" y="379.7" font-size="12.5" fill="#111" textLength="57" lengthAdjust="spacingAndGlyphs" stroke="#111" stroke-width="0.2">DIFF:36.99</text>
<text x="155" y="379.7" font-size="12.5" fill="#16169a" textLength="56.2" lengthAdjust="spacingAndGlyphs">DEA:32.57</text>
<text x="221" y="379.7" font-size="12.5" fill="#ff00ff" textLength="62.2" lengthAdjust="spacingAndGlyphs">MACD:8.85</text>
<rect x="0" y="503" width="1075" height="1" fill="#dde3ea"/>
<rect x="185" y="504" width="1" height="4" fill="#c5cedb" shape-rendering="crispEdges"/>
<text x="187" y="515.6" font-size="12" fill="#1f2336" font-weight="bold" textLength="44.3" lengthAdjust="spacingAndGlyphs">2024/05</text>
<rect x="323" y="504" width="1" height="4" fill="#c5cedb" shape-rendering="crispEdges"/>
<text x="325" y="515.6" font-size="12" fill="#1f2336" font-weight="bold" textLength="44.3" lengthAdjust="spacingAndGlyphs">2024/06</text>
<rect x="443" y="504" width="1" height="4" fill="#c5cedb" shape-rendering="crispEdges"/>
<text x="445" y="515.6" font-size="12" fill="#1f2336" font-weight="bold" textLength="44.3" lengthAdjust="spacingAndGlyphs">2024/07</text>
<rect x="581" y="504" width="1" height="4" fill="#c5cedb" shape-rendering="crispEdges"/>
<text x="583" y="515.6" font-size="12" fill="#1f2336" font-weight="bold" textLength="44.3" lengthAdjust="spacingAndGlyphs">2024/08</text>
<rect x="713" y="504" width="1" height="4" fill="#c5cedb" shape-rendering="crispEdges"/>
<text x="715" y="515.6" font-size="12" fill="#1f2336" font-weight="bold" textLength="44.3" lengthAdjust="spacingAndGlyphs">2024/09</text>
<rect x="839" y="504" width="1" height="4" fill="#c5cedb" shape-rendering="crispEdges"/>
<text x="841" y="515.6" font-size="12" fill="#1f2336" font-weight="bold" textLength="44.3" lengthAdjust="spacingAndGlyphs">2024/10</text>
<rect x="17.5" y="504.5" width="109" height="15.5" fill="#fff" stroke="#e4e7f0" stroke-width="1" shape-rendering="crispEdges"/>
<text x="19.5" y="515.8" font-size="13" fill="#ff8000" textLength="64.5" lengthAdjust="spacingAndGlyphs">2024/03/18</text>
<text x="89" y="516.3" font-size="12" fill="#ff8000" textLength="35.8" lengthAdjust="spacingAndGlyphs">星期一</text>
<rect x="0" y="522" width="1075" height="1" fill="#ccd4df"/>
<rect x="0" y="523" width="4" height="15" fill="#1a73c9"/>
<g fill="#d5dae2" shape-rendering="crispEdges"><rect x="62" y="523" width="1" height="15"/><rect x="102" y="523" width="1" height="15"/><rect x="230" y="523" width="1" height="15"/></g>
<rect x="103" y="523" width="63" height="15" fill="#1a73c9"/>
<text x="13" y="535.8" font-size="12" fill="#ff8000" textLength="18" lengthAdjust="spacingAndGlyphs" font-family='"Liberation Serif",serif'>VIP</text>
<text x="31" y="535.8" font-size="12" fill="#ff8000" textLength="24" lengthAdjust="spacingAndGlyphs">指标</text>
<text x="71" y="535.8" font-size="12" fill="#1a1a1a" textLength="24" lengthAdjust="spacingAndGlyphs">标准</text>
<text x="111" y="535.8" font-size="12" fill="#fff" textLength="48" lengthAdjust="spacingAndGlyphs">另存模板</text>
<text x="174.5" y="535.8" font-size="12" fill="#1a1a1a" textLength="48" lengthAdjust="spacingAndGlyphs">管理模板</text>
<rect x="0" y="538" width="1075" height="2" fill="#c3cbd6"/>
</svg>
</body></html>
